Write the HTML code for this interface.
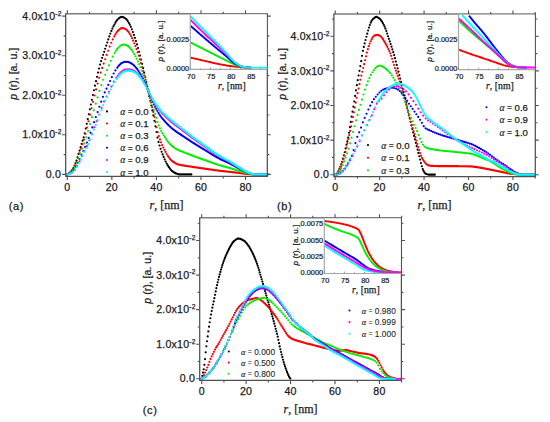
<!DOCTYPE html>
<html><head><meta charset="utf-8"><style>
html,body{margin:0;padding:0;background:#fff;}
svg{display:block;}
text{font-family:"Liberation Sans",sans-serif;fill:#1c1c1c;stroke:#1c1c1c;stroke-width:0.25px;}
.tl{font-size:10.6px;letter-spacing:0.2px;}
.sup{font-size:6.6px;}
.yt{font-size:10.6px;}
.xt{font-family:"Liberation Serif",serif;font-size:12px;}
.pl{font-size:11px;letter-spacing:0.7px;}
.lg{}
.al{font-family:"Liberation Serif",serif;font-style:italic;stroke-width:0.15px;}
.it{font-size:7.4px;stroke-width:0.22px;}
.iyt{font-size:7.9px;letter-spacing:0.18px;}
.ixt{font-family:"Liberation Serif",serif;font-size:9.8px;}
</style></head><body>
<svg width="550" height="422" viewBox="0 0 550 422">
<rect width="550" height="422" fill="#fff"/>
<path d="M67.3 174.4h0M68.32 173.86h0M69.35 173.14h0M70.37 172.26h0M71.4 171.16h0M72.42 169.8h0M73.45 168h0M74.47 165.82h0M75.5 163.4h0M76.52 160.58h0M77.55 157.32h0M78.57 153.92h0M79.6 150.57h0M80.62 147.13h0M81.65 143.78h0M82.67 140.67h0M83.7 137.33h0M84.72 133.28h0M85.75 128.62h0M86.77 123.85h0M87.8 119.1h0M88.82 114.25h0M89.85 109.36h0M90.87 104.51h0M91.9 99.74h0M92.92 94.99h0M93.95 90.27h0M94.97 85.65h0M96 81.19h0M97.02 76.86h0M98.05 72.59h0M99.07 68.48h0M100.1 64.6h0M101.12 61.06h0M102.15 57.87h0M103.17 54.86h0M104.2 51.86h0M105.22 48.75h0M106.25 45.59h0M107.27 42.48h0M108.3 39.44h0M109.32 36.41h0M110.34 33.53h0M111.37 30.96h0M112.39 28.61h0M113.42 26.47h0M114.44 24.55h0M115.47 22.67h0M116.49 20.96h0M117.52 19.61h0M118.54 18.69h0M119.57 17.87h0M120.59 17.23h0M121.62 16.91h0M122.64 16.99h0M123.67 17.39h0M124.69 18.01h0M125.72 18.74h0M126.74 19.69h0M127.77 21.11h0M128.79 22.82h0M129.82 24.68h0M130.84 26.84h0M131.87 29.31h0M132.89 32.02h0M133.92 34.89h0M134.94 37.86h0M135.97 41.02h0M136.99 44.41h0M138.02 47.99h0M139.04 51.74h0M140.07 55.6h0M141.09 59.57h0M142.12 63.78h0M143.14 68.18h0M144.17 72.69h0M145.19 77.25h0M146.22 81.92h0M147.24 86.7h0M148.27 91.47h0M149.29 96.13h0M150.32 100.76h0M151.34 105.49h0M152.37 110.39h0M153.39 115.45h0M154.41 120.76h0M155.44 126.37h0M156.46 132h0M157.49 137.54h0M158.51 141.88h0M159.54 145.51h0M160.56 148.78h0M161.59 151.73h0M162.61 154.43h0M163.64 156.95h0M164.66 159.28h0M165.69 161.49h0M166.71 163.56h0M167.74 165.39h0M168.76 166.95h0M169.79 168.4h0M170.81 169.69h0M171.84 170.78h0M172.86 171.62h0M173.89 172.33h0M174.91 172.93h0M175.94 173.41h0M176.96 173.77h0M177.99 174.1h0M179.01 174.33h0M180.04 174.4h0M181.06 174.4h0M182.09 174.4h0M183.11 174.4h0M184.14 174.4h0M185.16 174.4h0M186.19 174.4h0M187.21 174.4h0M188.24 174.4h0M189.26 174.4h0M190.29 174.4h0M191.31 174.4h0" stroke="#000000" stroke-width="2.2" stroke-linecap="round" fill="none"/>
<path d="M67.3 174.4h0M68.82 173.65h0M70.33 172.55h0M71.85 171.04h0M73.36 168.85h0M74.88 165.86h0M76.39 162.27h0M77.91 157.86h0M79.42 153.31h0M80.94 148.63h0M82.45 144.21h0M83.97 139.6h0M85.48 133.82h0M87 127.58h0M88.51 121.25h0M90.03 114.72h0M91.54 108.24h0M93.06 101.83h0M94.57 95.51h0M96.09 89.46h0M97.6 83.58h0M99.12 77.86h0M100.63 72.55h0M102.15 67.88h0M103.66 63.56h0M105.18 59.24h0M106.69 54.95h0M108.21 50.76h0M109.72 46.57h0M111.24 42.76h0M112.75 39.38h0M114.27 36.44h0M115.38 34.43h0M116.49 32.59h0M117.61 31.13h0M118.72 30.06h0M119.84 29.1h0M120.95 28.41h0M122.06 28.09h0M123.18 28.16h0M124.29 28.51h0M125.41 29.06h0M126.52 29.75h0M127.63 30.88h0M128.75 32.34h0M129.86 33.98h0M130.98 35.93h0M132.09 38.18h0M133.2 40.65h0M134.32 43.29h0M135.43 46.07h0M136.55 49.08h0M137.66 52.33h0M138.77 55.77h0M139.89 59.37h0M141 63.08h0M142.12 67.05h0M143.23 71.22h0M144.34 75.51h0M145.46 79.87h0M146.57 84.37h0M147.69 88.95h0M148.8 93.5h0M149.91 97.98h0M151.03 102.5h0M152.14 107.14h0M153.26 111.91h0M154.37 116.86h0M155.48 122.04h0M156.6 127.23h0M157.71 132.18h0M158.83 136.05h0M159.94 139.38h0M161.05 142.35h0M162.17 145.03h0M163.28 147.5h0M164.4 149.79h0M165.51 151.95h0M166.62 153.98h0M167.74 155.79h0M168.85 157.34h0M169.97 158.78h0M171.08 160.05h0M172.19 161.12h0M173.31 161.97h0M174.42 162.72h0M175.54 163.35h0M176.65 163.87h0M177.76 164.33h0M178.88 164.73h0M179.99 164.96h0M181.11 165.13h0M182.22 165.3h0M183.33 165.47h0M184.45 165.64h0M185.56 165.82h0M186.68 165.99h0M187.79 166.17h0M188.9 166.35h0M190.02 166.52h0M191.13 166.69h0M192.25 166.86h0M193.36 167.03h0M194.47 167.19h0M195.59 167.36h0M196.7 167.52h0M197.82 167.68h0M198.93 167.84h0M200.04 168h0M201.16 168.16h0M202.27 168.32h0M203.39 168.47h0M204.5 168.63h0M205.61 168.79h0M206.73 168.95h0M207.84 169.11h0M208.96 169.28h0M210.07 169.44h0M211.18 169.6h0M212.3 169.77h0M213.41 169.93h0M214.53 170.08h0M215.64 170.23h0M216.75 170.37h0M217.87 170.51h0M218.98 170.65h0M220.1 170.79h0M221.21 170.92h0M222.32 171.05h0M223.44 171.17h0M224.55 171.29h0M225.67 171.4h0M226.78 171.52h0M227.89 171.63h0M229.01 171.75h0M230.12 171.89h0M231.24 172.02h0M232.35 172.16h0M233.46 172.3h0M234.58 172.44h0M235.69 172.58h0M236.81 172.72h0M237.92 172.86h0M239.03 173h0M240.15 173.14h0M241.26 173.27h0M242.38 173.41h0M243.49 173.54h0M244.6 173.66h0M245.72 173.79h0M246.83 173.91h0M247.95 174.02h0M249.06 174.12h0M250.17 174.2h0M251.29 174.27h0M252.4 174.32h0M253.52 174.35h0M254.63 174.38h0M255.74 174.39h0M256.86 174.4h0M257.97 174.4h0M259.09 174.4h0M260.2 174.4h0M261.31 174.4h0M262.43 174.4h0M263.54 174.4h0M264.66 174.4h0M265.77 174.4h0M266.88 174.4h0" stroke="#ff0000" stroke-width="2.2" stroke-linecap="round" fill="none"/>
<path d="M67.3 174.4h0M69.19 173.61h0M71.09 172.36h0M72.98 170.4h0M74.88 167.3h0M76.77 163.32h0M78.66 158.49h0M80.56 153.48h0M82.45 148.5h0M84.34 143.35h0M86.24 137.23h0M88.13 130.85h0M90.03 124.02h0M91.92 117.13h0M93.81 110.28h0M95.71 103.69h0M97.6 97.31h0M99.49 90.93h0M101.39 85.05h0M103.28 79.76h0M105.18 74.77h0M107.07 70.11h0M108.96 65.44h0M110.86 60.84h0M112.75 56.69h0M114.65 53.1h0M115.87 51.02h0M117.1 49.2h0M118.32 47.76h0M119.55 46.5h0M120.77 45.51h0M122 44.9h0M123.22 44.64h0M124.45 44.69h0M125.67 44.94h0M126.9 45.39h0M128.12 46.2h0M129.35 47.29h0M130.58 48.6h0M131.8 50.21h0M133.03 52.02h0M134.25 54.05h0M135.48 56.25h0M136.7 58.67h0M137.93 61.34h0M139.15 64.22h0M140.38 67.25h0M141.6 70.5h0M142.83 74.02h0M144.05 77.68h0M145.28 81.44h0M146.51 85.34h0M147.73 89.35h0M148.96 93.39h0M150.18 97.42h0M151.41 101.44h0M152.63 105.52h0M153.86 109.64h0M155.08 113.82h0M156.31 117.95h0M157.53 122.04h0M158.76 125.4h0M159.98 128.3h0M161.21 130.85h0M162.44 133.13h0M163.66 135.25h0M164.89 137.22h0M166.11 139.11h0M167.34 140.86h0M168.56 142.39h0M169.79 143.8h0M171.01 145.08h0M172.24 146.18h0M173.46 147.12h0M174.69 147.98h0M175.91 148.75h0M177.14 149.44h0M178.37 150.1h0M179.59 150.66h0M180.82 151.12h0M182.04 151.59h0M183.27 152.05h0M184.49 152.52h0M185.72 153h0M186.94 153.49h0M188.17 153.97h0M189.39 154.46h0M190.62 154.93h0M191.85 155.4h0M193.07 155.86h0M194.3 156.32h0M195.52 156.77h0M196.75 157.21h0M197.97 157.65h0M199.2 158.09h0M200.42 158.53h0M201.65 158.97h0M202.87 159.4h0M204.1 159.84h0M205.32 160.27h0M206.55 160.71h0M207.78 161.15h0M209 161.61h0M210.23 162.06h0M211.45 162.51h0M212.68 162.95h0M213.9 163.38h0M215.13 163.8h0M216.35 164.2h0M217.58 164.6h0M218.8 164.98h0M220.03 165.35h0M221.25 165.71h0M222.48 166.07h0M223.71 166.41h0M224.93 166.73h0M226.16 167.03h0M227.38 167.34h0M228.61 167.67h0M229.83 168.03h0M231.06 168.4h0M232.28 168.79h0M233.51 169.18h0M234.73 169.56h0M235.96 169.94h0M237.18 170.33h0M238.41 170.71h0M239.64 171.09h0M240.86 171.46h0M242.09 171.83h0M243.31 172.19h0M244.54 172.54h0M245.76 172.88h0M246.99 173.21h0M248.21 173.51h0M249.44 173.77h0M250.66 173.98h0M251.89 174.13h0M253.12 174.26h0M254.34 174.34h0M255.57 174.38h0M256.79 174.4h0M258.02 174.4h0M259.24 174.4h0M260.47 174.4h0M261.69 174.4h0M262.92 174.4h0M264.14 174.4h0M265.37 174.4h0M266.59 174.4h0M267.82 174.4h0" stroke="#00ee00" stroke-width="2.2" stroke-linecap="round" fill="none"/>
<path d="M67.3 174.4h0M69.08 173.88h0M70.86 173.04h0M72.65 171.7h0M74.43 169.54h0M76.21 166.62h0M77.99 163.05h0M79.78 159.19h0M81.56 155.12h0M83.34 151.1h0M85.12 146.96h0M86.91 142.6h0M88.69 137.9h0M90.47 132.69h0M92.25 127.4h0M94.04 122.13h0M95.82 117.08h0M97.6 112.04h0M99.38 106.77h0M101.17 101.67h0M102.95 96.87h0M104.73 92.44h0M106.51 88.64h0M108.3 84.95h0M110.08 80.98h0M111.86 77.14h0M113.64 73.51h0M115.42 70.43h0M117.21 67.78h0M118.32 66.36h0M119.44 65.05h0M120.55 63.96h0M121.66 63.15h0M122.78 62.52h0M123.89 62.1h0M125.01 61.91h0M126.12 61.8h0M127.23 61.84h0M128.35 62.05h0M129.46 62.45h0M130.58 63h0M131.69 63.7h0M132.8 64.49h0M133.92 65.45h0M135.03 66.56h0M136.15 67.81h0M137.26 69.21h0M138.37 70.79h0M139.49 72.53h0M140.6 74.37h0M141.72 76.42h0M142.83 78.65h0M143.94 80.99h0M145.06 83.4h0M146.17 85.92h0M147.29 88.53h0M148.4 91.2h0M149.51 93.96h0M150.63 96.69h0M151.74 99.32h0M152.86 101.91h0M153.97 104.37h0M155.08 106.65h0M156.2 108.78h0M157.31 110.87h0M158.43 112.85h0M159.54 114.69h0M160.65 116.32h0M161.77 117.76h0M162.88 119.1h0M164 120.38h0M165.11 121.64h0M166.22 122.87h0M167.34 124.07h0M168.45 125.19h0M169.57 126.27h0M170.68 127.29h0M171.79 128.25h0M172.91 129.15h0M174.02 130h0M175.14 130.83h0M176.25 131.64h0M177.36 132.43h0M178.48 133.2h0M179.59 133.95h0M180.71 134.66h0M181.82 135.38h0M182.93 136.1h0M184.05 136.83h0M185.16 137.56h0M186.28 138.31h0M187.39 139.06h0M188.5 139.82h0M189.62 140.56h0M190.73 141.3h0M191.85 142.03h0M192.96 142.74h0M194.07 143.45h0M195.19 144.14h0M196.3 144.83h0M197.42 145.52h0M198.53 146.2h0M199.64 146.89h0M200.76 147.57h0M201.87 148.24h0M202.99 148.91h0M204.1 149.58h0M205.21 150.26h0M206.33 150.93h0M207.44 151.62h0M208.56 152.32h0M209.67 153.02h0M210.78 153.72h0M211.9 154.41h0M213.01 155.1h0M214.13 155.76h0M215.24 156.4h0M216.35 157.02h0M217.47 157.63h0M218.58 158.23h0M219.7 158.81h0M220.81 159.38h0M221.92 159.93h0M223.04 160.47h0M224.15 160.99h0M225.27 161.47h0M226.38 161.94h0M227.49 162.42h0M228.61 162.94h0M229.72 163.49h0M230.84 164.06h0M231.95 164.66h0M233.06 165.26h0M234.18 165.85h0M235.29 166.44h0M236.41 167.04h0M237.52 167.64h0M238.63 168.23h0M239.75 168.82h0M240.86 169.4h0M241.98 169.96h0M243.09 170.52h0M244.2 171.07h0M245.32 171.6h0M246.43 172.12h0M247.55 172.62h0M248.66 173.05h0M249.77 173.43h0M250.89 173.74h0M252 173.97h0M253.12 174.15h0M254.23 174.28h0M255.34 174.36h0M256.46 174.4h0M257.57 174.4h0M258.69 174.4h0M259.8 174.4h0M260.91 174.4h0M262.03 174.4h0M263.14 174.4h0M264.26 174.4h0M265.37 174.4h0M266.48 174.4h0M267.6 174.4h0" stroke="#0000ff" stroke-width="2.2" stroke-linecap="round" fill="none"/>
<path d="M67.3 174.4h0M69.75 173.74h0M72.2 172.45h0M74.65 169.89h0M77.1 166.01h0M79.55 161.3h0M82 156.17h0M84.46 151.1h0M86.91 146.08h0M89.36 140.35h0M91.81 133.88h0M94.26 127.36h0M96.71 121.14h0M99.16 114.51h0M101.61 107.83h0M104.06 101.56h0M106.51 96.54h0M108.96 91.75h0M111.41 86.6h0M113.87 81.64h0M116.32 77.66h0M117.65 75.8h0M118.99 74.06h0M120.33 72.57h0M121.66 71.48h0M123 70.58h0M124.34 69.96h0M125.67 69.61h0M127.01 69.34h0M128.35 69.26h0M129.68 69.41h0M131.02 69.75h0M132.36 70.21h0M133.69 70.82h0M135.03 71.69h0M136.37 72.71h0M137.7 73.95h0M139.04 75.43h0M140.38 77.08h0M141.72 78.99h0M143.05 81.15h0M144.39 83.41h0M145.73 85.82h0M147.06 88.38h0M148.4 91.05h0M149.74 93.9h0M151.07 96.67h0M152.41 99.3h0M153.75 101.76h0M155.08 103.87h0M156.42 105.73h0M157.76 107.59h0M159.09 109.53h0M160.43 111.3h0M161.77 112.82h0M163.1 114.23h0M164.44 115.58h0M165.78 116.92h0M167.11 118.22h0M168.45 119.47h0M169.79 120.68h0M171.12 121.82h0M172.46 122.91h0M173.8 123.96h0M175.14 124.99h0M176.47 126.01h0M177.81 127.02h0M179.15 128.02h0M180.48 129h0M181.82 129.98h0M183.16 130.96h0M184.49 131.96h0M185.83 132.97h0M187.17 134h0M188.5 135.03h0M189.84 136.05h0M191.18 137.05h0M192.51 138.04h0M193.85 139h0M195.19 139.95h0M196.52 140.9h0M197.86 141.83h0M199.2 142.77h0M200.53 143.7h0M201.87 144.62h0M203.21 145.54h0M204.54 146.45h0M205.88 147.37h0M207.22 148.31h0M208.56 149.26h0M209.89 150.22h0M211.23 151.17h0M212.57 152.11h0M213.9 153.03h0M215.24 153.91h0M216.58 154.76h0M217.91 155.58h0M219.25 156.39h0M220.59 157.17h0M221.92 157.93h0M223.26 158.66h0M224.6 159.35h0M225.93 160h0M227.27 160.65h0M228.61 161.35h0M229.94 162.1h0M231.28 162.9h0M232.62 163.72h0M233.95 164.53h0M235.29 165.34h0M236.63 166.16h0M237.96 166.97h0M239.3 167.78h0M240.64 168.57h0M241.98 169.35h0M243.31 170.11h0M244.65 170.85h0M245.99 171.57h0M247.32 172.26h0M248.66 172.86h0M250 173.38h0M251.33 173.76h0M252.67 174.04h0M254.01 174.24h0M255.34 174.35h0M256.68 174.4h0M258.02 174.4h0M259.35 174.4h0M260.69 174.4h0M262.03 174.4h0M263.36 174.4h0M264.7 174.4h0M266.04 174.4h0M267.37 174.4h0" stroke="#ff00ff" stroke-width="2.2" stroke-linecap="round" fill="none"/>
<path d="M67.3 174.4h0M69.19 173.97h0M71.09 173.2h0M72.98 171.93h0M74.88 169.71h0M76.77 166.82h0M78.66 163.35h0M80.56 159.6h0M82.45 155.66h0M84.34 151.83h0M86.24 148.14h0M88.13 144.18h0M90.03 139.53h0M91.92 134.63h0M93.81 129.68h0M95.71 124.96h0M97.6 120.18h0M99.49 115.01h0M101.39 109.91h0M103.28 104.98h0M105.18 100.66h0M107.07 97.14h0M108.96 93.43h0M110.86 89.48h0M112.75 85.53h0M114.65 82.03h0M116.54 79.08h0M117.54 77.69h0M118.54 76.35h0M119.55 75.11h0M120.55 74.07h0M121.55 73.25h0M122.55 72.52h0M123.56 71.92h0M124.56 71.51h0M125.56 71.21h0M126.56 70.96h0M127.57 70.78h0M128.57 70.71h0M129.57 70.78h0M130.58 70.96h0M131.58 71.22h0M132.58 71.51h0M133.58 71.9h0M134.59 72.44h0M135.59 73.1h0M136.59 73.82h0M137.59 74.68h0M138.6 75.69h0M139.6 76.79h0M140.6 77.99h0M141.6 79.36h0M142.61 80.86h0M143.61 82.45h0M144.61 84.08h0M145.61 85.81h0M146.62 87.63h0M147.62 89.5h0M148.62 91.47h0M149.62 93.54h0M150.63 95.58h0M151.63 97.49h0M152.63 99.36h0M153.64 101.1h0M154.64 102.63h0M155.64 103.95h0M156.64 105.2h0M157.65 106.48h0M158.65 107.85h0M159.65 109.21h0M160.65 110.4h0M161.66 111.49h0M162.66 112.51h0M163.66 113.49h0M164.66 114.46h0M165.67 115.43h0M166.67 116.38h0M167.67 117.31h0M168.67 118.22h0M169.68 119.1h0M170.68 119.96h0M171.68 120.78h0M172.68 121.59h0M173.69 122.37h0M174.69 123.15h0M175.69 123.93h0M176.69 124.71h0M177.7 125.48h0M178.7 126.25h0M179.7 127.01h0M180.71 127.76h0M181.71 128.52h0M182.71 129.28h0M183.71 130.04h0M184.72 130.82h0M185.72 131.6h0M186.72 132.39h0M187.72 133.19h0M188.73 133.98h0M189.73 134.77h0M190.73 135.56h0M191.73 136.32h0M192.74 137.08h0M193.74 137.82h0M194.74 138.56h0M195.74 139.29h0M196.75 140.02h0M197.75 140.74h0M198.75 141.47h0M199.75 142.19h0M200.76 142.91h0M201.76 143.62h0M202.76 144.33h0M203.77 145.04h0M204.77 145.75h0M205.77 146.46h0M206.77 147.18h0M207.78 147.91h0M208.78 148.65h0M209.78 149.39h0M210.78 150.13h0M211.79 150.86h0M212.79 151.58h0M213.79 152.29h0M214.79 152.98h0M215.8 153.64h0M216.8 154.29h0M217.8 154.93h0M218.8 155.56h0M219.81 156.17h0M220.81 156.77h0M221.81 157.35h0M222.81 157.92h0M223.82 158.48h0M224.82 159h0M225.82 159.5h0M226.82 160h0M227.83 160.52h0M228.83 161.07h0M229.83 161.66h0M230.84 162.27h0M231.84 162.89h0M232.84 163.53h0M233.84 164.16h0M234.85 164.78h0M235.85 165.41h0M236.85 166.04h0M237.85 166.67h0M238.86 167.3h0M239.86 167.92h0M240.86 168.53h0M241.86 169.13h0M242.87 169.72h0M243.87 170.3h0M244.87 170.87h0M245.87 171.42h0M246.88 171.96h0M247.88 172.47h0M248.88 172.91h0M249.88 173.31h0M250.89 173.63h0M251.89 173.87h0M252.89 174.07h0M253.9 174.23h0M254.9 174.32h0M255.9 174.38h0M256.9 174.4h0M257.91 174.4h0M258.91 174.4h0M259.91 174.4h0M260.91 174.4h0M261.92 174.4h0M262.92 174.4h0M263.92 174.4h0M264.92 174.4h0M265.93 174.4h0M266.93 174.4h0" stroke="#00ffff" stroke-width="2.2" stroke-linecap="round" fill="none"/>
<path d="M335.2 174.7h0M336.07 174.5h0M336.93 173.88h0M337.8 172.43h0M338.67 170.77h0M339.53 168.92h0M340.4 166.82h0M341.27 164.42h0M342.13 161.74h0M343 158.72h0M343.87 155.24h0M344.73 152.27h0M345.6 148.51h0M346.47 144.74h0M347.33 141.47h0M348.2 137.64h0M349.07 132.76h0M349.93 127.22h0M350.8 121.93h0M351.67 116.7h0M352.53 111.65h0M353.4 106.67h0M354.26 101.49h0M355.13 95.92h0M356 90.43h0M356.86 85.2h0M357.73 80.22h0M358.6 75.5h0M359.46 70.84h0M360.33 66.08h0M361.2 61.21h0M362.06 55.83h0M362.93 50.85h0M363.8 46.92h0M364.66 43.42h0M365.53 40.01h0M366.4 36.77h0M367.26 33.64h0M368.13 30.49h0M369 27.53h0M369.86 25.02h0M370.73 22.72h0M371.6 20.81h0M372.46 19.57h0M373.33 18.69h0M374.2 18.03h0M375.06 17.46h0M375.93 17.01h0M376.8 16.96h0M377.66 17.29h0M378.53 17.84h0M379.4 18.46h0M380.26 19.3h0M381.13 20.39h0M382 21.62h0M382.86 23.06h0M383.73 24.74h0M384.6 26.61h0M385.46 28.65h0M386.33 31.01h0M387.19 33.61h0M388.06 36.26h0M388.93 38.83h0M389.79 41.4h0M390.66 44.01h0M391.53 46.68h0M392.39 49.39h0M393.26 52.15h0M394.13 55.06h0M394.99 58.21h0M395.86 61.56h0M396.73 64.92h0M397.59 68.29h0M398.46 71.68h0M399.33 75.09h0M400.19 78.53h0M401.06 81.96h0M401.93 85.36h0M402.79 88.73h0M403.66 92.03h0M404.53 95.28h0M405.39 98.85h0M406.26 102.67h0M407.13 106.54h0M407.99 110.48h0M408.86 114.41h0M409.73 118.18h0M410.59 121.82h0M411.46 125.41h0M412.33 128.94h0M413.19 132.43h0M414.06 135.91h0M414.93 139.36h0M415.79 142.79h0M416.66 146.18h0M417.53 149.55h0M418.39 152.9h0M419.26 156.23h0M420.12 159.6h0M420.99 163.1h0M421.86 166.24h0M422.72 169.08h0M423.59 170.96h0M424.46 172.41h0M425.32 173.45h0M426.19 173.94h0M427.06 174.25h0M427.92 174.49h0M428.79 174.65h0M429.66 174.7h0M430.52 174.7h0M431.39 174.7h0M432.26 174.7h0M433.12 174.7h0M433.99 174.7h0M434.86 174.7h0" stroke="#000000" stroke-width="2.2" stroke-linecap="round" fill="none"/>
<path d="M335.2 174.7h0M336.13 174.36h0M337.07 173.64h0M338 172.61h0M338.93 170.96h0M339.87 169.04h0M340.8 166.82h0M341.73 164.33h0M342.67 161.79h0M343.6 159.02h0M344.53 155.75h0M345.47 151.82h0M346.4 147.66h0M347.33 143.33h0M348.27 139.11h0M349.2 135.08h0M350.13 130.9h0M351.07 126.41h0M352 121.76h0M352.93 117.09h0M353.86 112.37h0M354.8 107.58h0M355.73 102.63h0M356.66 97.77h0M357.6 93.13h0M358.53 88.62h0M359.46 84.15h0M360.4 79.74h0M361.33 75.6h0M362.26 71.76h0M363.2 68.01h0M364.13 64.14h0M365.06 60.26h0M366 56.37h0M366.93 52.53h0M367.86 49.16h0M368.8 46.16h0M369.73 43.54h0M370.66 41.23h0M371.6 39.32h0M372.53 37.57h0M373.46 36.27h0M374.4 35.68h0M375.33 35.27h0M376.26 35h0M377.2 34.92h0M378.13 35.08h0M379.06 35.46h0M380 35.99h0M380.93 36.62h0M381.86 37.56h0M382.8 38.96h0M383.73 40.55h0M384.66 42.07h0M385.59 43.64h0M386.53 45.32h0M387.46 47.11h0M388.39 49.04h0M389.33 51.12h0M390.26 53.37h0M391.19 55.87h0M392.13 58.76h0M393.06 61.87h0M393.99 65.02h0M394.93 68h0M395.86 70.72h0M396.79 73.34h0M397.73 76h0M398.66 78.7h0M399.59 81.48h0M400.53 84.49h0M401.46 87.67h0M402.39 90.98h0M403.33 94.33h0M404.26 97.77h0M405.19 101.29h0M406.13 104.83h0M407.06 108.42h0M407.99 112.09h0M408.93 115.62h0M409.86 118.83h0M410.79 121.83h0M411.73 124.89h0M412.66 127.98h0M413.59 131.04h0M414.53 134.05h0M415.46 137.18h0M416.39 140.57h0M417.33 143.95h0M418.26 147.12h0M419.19 150.16h0M420.12 152.98h0M421.06 155.63h0M421.99 157.82h0M422.92 159.55h0M423.86 161.02h0M424.79 162.31h0M425.72 163.43h0M426.66 164.26h0M427.59 164.94h0M428.52 165.36h0M429.46 165.57h0M430.39 165.73h0M431.32 165.84h0M432.26 165.9h0M433.19 165.95h0M434.12 165.99h0M435.06 166.03h0M435.99 166.06h0M436.92 166.09h0M437.86 166.12h0M438.79 166.14h0M439.72 166.16h0M440.66 166.17h0M441.59 166.18h0M442.52 166.19h0M443.46 166.19h0M444.39 166.19h0M445.32 166.2h0M446.26 166.2h0M447.19 166.2h0M448.12 166.2h0M449.06 166.2h0M449.99 166.21h0M450.92 166.21h0M451.86 166.21h0M452.79 166.21h0M453.72 166.21h0M454.65 166.21h0M455.59 166.22h0M456.52 166.22h0M457.45 166.22h0M458.39 166.23h0M459.32 166.23h0M460.25 166.24h0M461.19 166.25h0M462.12 166.26h0M463.05 166.27h0M463.99 166.28h0M464.92 166.3h0M465.85 166.32h0M466.79 166.33h0M467.72 166.35h0M468.65 166.38h0M469.59 166.4h0M470.52 166.44h0M471.45 166.51h0M472.39 166.6h0M473.32 166.71h0M474.25 166.83h0M475.19 166.95h0M476.12 167.09h0M477.05 167.22h0M477.99 167.35h0M478.92 167.49h0M479.85 167.64h0M480.79 167.8h0M481.72 167.96h0M482.65 168.14h0M483.59 168.32h0M484.52 168.51h0M485.45 168.7h0M486.38 168.89h0M487.32 169.08h0M488.25 169.27h0M489.18 169.45h0M490.12 169.63h0M491.05 169.82h0M491.98 170h0M492.92 170.19h0M493.85 170.38h0M494.78 170.57h0M495.72 170.75h0M496.65 170.94h0M497.58 171.13h0M498.52 171.32h0M499.45 171.51h0M500.38 171.69h0M501.32 171.89h0M502.25 172.09h0M503.18 172.3h0M504.12 172.51h0M505.05 172.71h0M505.98 172.91h0M506.92 173.1h0M507.85 173.28h0M508.78 173.45h0M509.72 173.59h0M510.65 173.72h0M511.58 173.83h0M512.52 173.93h0M513.45 174.02h0M514.38 174.11h0M515.32 174.19h0M516.25 174.27h0M517.18 174.33h0M518.12 174.4h0M519.05 174.46h0M519.98 174.52h0M520.91 174.58h0M521.85 174.64h0M522.78 174.68h0M523.71 174.7h0M524.65 174.7h0M525.58 174.7h0M526.51 174.7h0M527.45 174.7h0M528.38 174.7h0M529.31 174.7h0M530.25 174.7h0M531.18 174.7h0M532.11 174.7h0M533.05 174.7h0M533.98 174.7h0M534.91 174.7h0" stroke="#ff0000" stroke-width="2.2" stroke-linecap="round" fill="none"/>
<path d="M335.2 174.7h0M336.69 174.14h0M338.18 172.95h0M339.67 170.86h0M341.15 168.2h0M342.64 165.04h0M344.13 161.44h0M345.62 157.57h0M347.11 153.42h0M348.6 148.87h0M350.09 143.28h0M351.58 137.67h0M353.06 132.11h0M354.55 126.26h0M356.04 120.33h0M357.53 114.96h0M359.02 109.9h0M360.51 104.75h0M362 99.59h0M363.49 94.5h0M364.97 89.56h0M366.46 85.2h0M367.95 81.3h0M369.44 77.9h0M370.93 74.88h0M372.42 72.27h0M373.91 70.03h0M375.4 68.21h0M376.88 66.81h0M378.37 65.86h0M379.86 65.65h0M381.35 66.04h0M382.84 66.65h0M384.33 67.7h0M385.82 68.87h0M387.31 70.05h0M388.79 71.4h0M390.28 73.08h0M391.77 75.3h0M393.26 77.7h0M394.75 80.21h0M396.24 82.84h0M397.73 85.55h0M399.22 88.44h0M400.7 91.52h0M402.19 94.71h0M403.68 98.03h0M405.17 101.9h0M406.66 106.34h0M408.15 111.37h0M409.64 114.76h0M411.13 117.76h0M412.61 121.27h0M414.1 124.79h0M415.59 128.02h0M417.08 131.17h0M418.57 134.95h0M420.06 138.65h0M421.55 141.98h0M423.04 144.76h0M424.52 146.5h0M426.01 147.5h0M427.5 148.13h0M428.99 148.55h0M430.48 148.89h0M431.97 149.19h0M433.46 149.47h0M434.95 149.72h0M436.43 149.94h0M437.92 150.13h0M439.41 150.31h0M440.9 150.48h0M442.39 150.64h0M443.88 150.81h0M445.37 150.96h0M446.86 151.11h0M448.34 151.26h0M449.83 151.41h0M451.32 151.56h0M452.81 151.71h0M454.3 151.86h0M455.79 152.01h0M457.28 152.15h0M458.77 152.28h0M460.25 152.43h0M461.74 152.57h0M463.23 152.73h0M464.72 152.9h0M466.21 153.08h0M467.7 153.27h0M469.19 153.47h0M470.68 153.71h0M472.16 153.99h0M473.65 154.36h0M475.14 154.9h0M476.63 155.52h0M478.12 156.13h0M479.61 156.77h0M481.1 157.43h0M482.59 158.09h0M484.07 158.71h0M485.56 159.3h0M487.05 159.89h0M488.54 160.51h0M490.03 161.22h0M491.52 162h0M493.01 162.85h0M494.5 163.75h0M495.98 164.75h0M497.47 165.83h0M498.96 166.87h0M500.45 167.79h0M501.94 168.64h0M503.43 169.43h0M504.92 170.19h0M506.41 170.94h0M507.89 171.68h0M509.38 172.37h0M510.87 172.95h0M512.36 173.46h0M513.85 173.91h0M515.34 174.2h0M516.83 174.41h0M518.32 174.56h0M519.8 174.64h0M521.29 174.67h0M522.78 174.69h0M524.27 174.7h0M525.76 174.7h0M527.25 174.7h0M528.74 174.7h0M530.22 174.7h0M531.71 174.7h0M533.2 174.7h0M534.69 174.7h0" stroke="#00ee00" stroke-width="2.2" stroke-linecap="round" fill="none"/>
<path d="M335.2 174.7h0M337.04 174.45h0M338.89 173.87h0M340.73 172.59h0M342.58 170.91h0M344.42 168.8h0M346.27 166.19h0M348.11 163.01h0M349.95 159.7h0M351.8 155.83h0M353.64 150.09h0M355.49 143.05h0M357.33 136.8h0M359.18 132.31h0M361.02 127.62h0M362.86 122.33h0M364.71 117.81h0M366.55 113.74h0M368.4 109.52h0M370.24 105.71h0M372.09 102.18h0M373.93 99.22h0M375.77 96.75h0M377.62 94.52h0M379.46 92.52h0M381.31 90.79h0M383.15 89.62h0M385 88.91h0M386.84 88.35h0M388.68 87.78h0M390.53 87.51h0M392.37 87.66h0M394.22 88.02h0M396.06 88.58h0M397.9 89.62h0M399.75 90.98h0M401.59 92.95h0M403.44 95.24h0M405.28 97.86h0M407.13 100.86h0M408.97 103.75h0M410.81 106.24h0M412.66 108.82h0M414.5 111.54h0M416.35 114.23h0M418.19 116.96h0M420.04 119.87h0M421.88 122.86h0M423.72 126.19h0M425.57 128.34h0M427.41 129.36h0M429.26 130.14h0M431.1 130.99h0M432.95 131.8h0M434.79 132.57h0M436.63 133.32h0M438.48 134.04h0M440.32 134.72h0M442.17 135.36h0M444.01 135.93h0M445.86 136.47h0M447.7 137.01h0M449.54 137.54h0M451.39 138.07h0M453.23 138.6h0M455.08 139.13h0M456.92 139.66h0M458.77 140.19h0M460.61 140.74h0M462.45 141.32h0M464.3 141.9h0M466.14 142.47h0M467.99 143.01h0M469.83 143.57h0M471.68 144.22h0M473.52 145.02h0M475.36 145.94h0M477.21 146.91h0M479.05 147.91h0M480.9 148.97h0M482.74 150.07h0M484.59 151.2h0M486.43 152.37h0M488.27 153.59h0M490.12 154.87h0M491.96 156.26h0M493.81 157.68h0M495.65 159.04h0M497.49 160.32h0M499.34 161.56h0M501.18 162.77h0M503.03 163.94h0M504.87 165.15h0M506.72 166.46h0M508.56 167.86h0M510.4 169.18h0M512.25 170.39h0M514.09 171.54h0M515.94 172.53h0M517.78 173.34h0M519.63 174.02h0M521.47 174.42h0M523.31 174.67h0M525.16 174.7h0M527 174.7h0M528.85 174.7h0M530.69 174.7h0M532.54 174.7h0M534.38 174.7h0" stroke="#0000ff" stroke-width="2.2" stroke-linecap="round" fill="none"/>
<path d="M335.2 174.7h0M337.64 174.5h0M340.09 173.6h0M342.53 171.47h0M344.98 168.65h0M347.42 164.82h0M349.87 160.43h0M352.31 155.99h0M354.75 151.08h0M357.2 146.55h0M359.64 141.16h0M362.09 135.52h0M364.53 130.36h0M366.97 125h0M369.42 120.09h0M371.86 115.46h0M374.31 109.16h0M376.75 103.64h0M379.2 100.87h0M381.64 98.67h0M384.08 95.28h0M386.53 92.2h0M388.97 89.69h0M391.42 87.86h0M393.86 86.71h0M396.31 86.12h0M398.75 86.66h0M401.19 87.71h0M403.64 89.3h0M406.08 91.45h0M408.53 94.38h0M410.97 97.8h0M413.41 101.18h0M415.86 104.77h0M418.3 108.63h0M420.75 112.36h0M423.19 115.68h0M425.64 118.5h0M428.08 120.41h0M430.52 121.85h0M432.97 123.53h0M435.41 125.26h0M437.86 126.93h0M440.3 128.61h0M442.74 130.39h0M445.19 132.32h0M447.63 134.22h0M450.08 135.98h0M452.52 137.65h0M454.97 139.19h0M457.41 140.6h0M459.85 141.95h0M462.3 143.25h0M464.74 144.5h0M467.19 145.71h0M469.63 146.88h0M472.08 148.02h0M474.52 149.15h0M476.96 150.28h0M479.41 151.39h0M481.85 152.5h0M484.3 153.69h0M486.74 154.93h0M489.18 156.3h0M491.63 157.97h0M494.07 159.77h0M496.52 161.3h0M498.96 162.61h0M501.41 164.05h0M503.85 165.71h0M506.29 167.43h0M508.74 169.18h0M511.18 170.84h0M513.63 172.39h0M516.07 173.46h0M518.51 174.17h0M520.96 174.51h0M523.4 174.69h0M525.85 174.7h0M528.29 174.7h0M530.74 174.7h0M533.18 174.7h0" stroke="#ff00ff" stroke-width="2.2" stroke-linecap="round" fill="none"/>
<path d="M335.2 174.7h0M337.42 174.53h0M339.64 173.89h0M341.87 172.07h0M344.09 169.8h0M346.31 166.49h0M348.53 162.46h0M350.75 158.57h0M352.98 154.27h0M355.2 149.67h0M357.42 145.46h0M359.64 140.15h0M361.86 134.97h0M364.09 130.29h0M366.31 125.26h0M368.53 120.76h0M370.75 116.57h0M372.97 112.07h0M375.2 107.27h0M377.42 102.21h0M378.31 100.67h0M379.2 99.32h0M380.08 98.03h0M380.97 96.71h0M381.86 95.39h0M382.75 94.13h0M383.64 92.96h0M384.53 91.85h0M385.42 90.79h0M386.31 89.82h0M387.19 88.98h0M388.08 88.21h0M388.97 87.51h0M389.86 86.89h0M390.75 86.34h0M391.64 85.83h0M392.53 85.35h0M393.42 84.93h0M394.31 84.58h0M395.19 84.32h0M396.08 84.08h0M396.97 83.87h0M397.86 83.74h0M398.75 83.71h0M399.64 83.81h0M400.53 84.01h0M401.42 84.26h0M402.3 84.54h0M403.19 84.92h0M404.08 85.39h0M404.97 85.92h0M405.86 86.48h0M406.75 87.04h0M407.64 87.62h0M408.53 88.22h0M409.41 88.88h0M410.3 89.6h0M411.19 90.39h0M412.08 91.27h0M412.97 92.31h0M413.86 93.52h0M414.75 94.84h0M415.64 96.27h0M416.53 97.78h0M417.41 99.53h0M418.3 101.42h0M419.19 103.32h0M420.08 105.14h0M420.97 106.98h0M421.86 108.77h0M422.75 110.42h0M423.64 112h0M424.52 113.54h0M425.41 114.99h0M426.3 116.28h0M427.19 117.36h0M428.08 118.23h0M428.97 118.97h0M429.86 119.69h0M430.75 120.4h0M431.63 121.09h0M432.52 121.76h0M433.41 122.42h0M434.3 123.06h0M435.19 123.7h0M436.08 124.34h0M436.97 124.97h0M437.86 125.57h0M438.75 126.18h0M439.63 126.78h0M440.52 127.39h0M441.41 128.01h0M442.3 128.66h0M443.19 129.34h0M444.08 130.03h0M444.97 130.73h0M445.86 131.43h0M446.74 132.14h0M447.63 132.83h0M448.52 133.53h0M449.41 134.23h0M450.3 134.93h0M451.19 135.63h0M452.08 136.32h0M452.97 137h0M453.85 137.67h0M454.74 138.33h0M455.63 138.98h0M456.52 139.63h0M457.41 140.27h0M458.3 140.9h0M459.19 141.52h0M460.08 142.13h0M460.97 142.73h0M461.85 143.32h0M462.74 143.9h0M463.63 144.48h0M464.52 145.07h0M465.41 145.66h0M466.3 146.26h0M467.19 146.88h0M468.08 147.5h0M468.96 148.12h0M469.85 148.74h0M470.74 149.34h0M471.63 149.93h0M472.52 150.52h0M473.41 151.09h0M474.3 151.66h0M475.19 152.22h0M476.07 152.78h0M476.96 153.32h0M477.85 153.86h0M478.74 154.39h0M479.63 154.91h0M480.52 155.43h0M481.41 155.94h0M482.3 156.44h0M483.19 156.93h0M484.07 157.42h0M484.96 157.92h0M485.85 158.4h0M486.74 158.89h0M487.63 159.35h0M488.52 159.8h0M489.41 160.22h0M490.3 160.6h0M491.18 160.95h0M492.07 161.28h0M492.96 161.61h0M493.85 161.97h0M494.74 162.37h0M495.63 162.83h0M496.52 163.39h0M497.41 164h0M498.29 164.64h0M499.18 165.27h0M500.07 165.84h0M500.96 166.39h0M501.85 166.92h0M502.74 167.45h0M503.63 167.96h0M504.52 168.46h0M505.41 168.94h0M506.29 169.4h0M507.18 169.85h0M508.07 170.3h0M508.96 170.73h0M509.85 171.16h0M510.74 171.59h0M511.63 172.04h0M512.52 172.51h0M513.4 172.96h0M514.29 173.36h0M515.18 173.66h0M516.07 173.9h0M516.96 174.11h0M517.85 174.3h0M518.74 174.44h0M519.63 174.53h0M520.51 174.58h0M521.4 174.63h0M522.29 174.67h0M523.18 174.69h0M524.07 174.7h0M524.96 174.7h0M525.85 174.7h0M526.74 174.7h0M527.63 174.7h0M528.51 174.7h0M529.4 174.7h0M530.29 174.7h0M531.18 174.7h0M532.07 174.7h0M532.96 174.7h0M533.85 174.7h0M534.74 174.7h0" stroke="#00ffff" stroke-width="2.2" stroke-linecap="round" fill="none"/>
<path d="M201.7 378.8h0M202.37 375.83h0M203.03 372.61h0M203.7 369.23h0M204.37 364.86h0M205.03 359.09h0M205.7 352.28h0M206.37 346.32h0M207.03 341.23h0M207.7 336.4h0M208.37 331.46h0M209.03 326.64h0M209.7 322.23h0M210.37 318.26h0M211.03 314.56h0M211.7 311.03h0M212.37 307.69h0M213.03 304.52h0M213.7 301.39h0M214.37 298.16h0M215.03 294.79h0M215.7 291.42h0M216.37 288.21h0M217.03 285.22h0M217.7 282.36h0M218.36 279.61h0M219.03 276.97h0M219.7 274.42h0M220.36 271.96h0M221.03 269.61h0M221.7 267.36h0M222.36 265.18h0M223.03 263.09h0M223.7 261.13h0M224.36 259.33h0M225.03 257.64h0M225.7 256.06h0M226.36 254.54h0M227.03 253.08h0M227.7 251.65h0M228.36 250.25h0M229.03 248.9h0M229.7 247.61h0M230.36 246.41h0M231.03 245.28h0M231.7 244.16h0M232.36 243.1h0M233.03 242.16h0M233.7 241.39h0M234.36 240.81h0M235.03 240.26h0M235.7 239.73h0M236.36 239.28h0M237.03 238.92h0M237.7 238.68h0M238.36 238.6h0M239.03 238.64h0M239.7 238.76h0M240.36 238.94h0M241.03 239.19h0M241.7 239.47h0M242.36 239.79h0M243.03 240.14h0M243.7 240.5h0M244.36 240.94h0M245.03 241.53h0M245.7 242.23h0M246.36 243.01h0M247.03 243.86h0M247.7 244.75h0M248.36 245.64h0M249.03 246.62h0M249.7 247.69h0M250.36 248.83h0M251.03 250.04h0M251.69 251.3h0M252.36 252.6h0M253.03 253.96h0M253.69 255.41h0M254.36 256.94h0M255.03 258.54h0M255.69 260.21h0M256.36 261.96h0M257.03 263.81h0M257.69 265.77h0M258.36 267.81h0M259.03 270.03h0M259.69 272.38h0M260.36 274.73h0M261.03 277.01h0M261.69 279.27h0M262.36 281.56h0M263.03 283.91h0M263.69 286.31h0M264.36 288.71h0M265.03 291.06h0M265.69 293.35h0M266.36 295.62h0M267.03 297.89h0M267.69 300.18h0M268.36 302.46h0M269.03 304.74h0M269.69 307.02h0M270.36 309.28h0M271.03 311.56h0M271.69 313.89h0M272.36 316.29h0M273.03 318.72h0M273.69 321.2h0M274.36 323.72h0M275.03 326.27h0M275.69 328.82h0M276.36 331.3h0M277.03 333.87h0M277.69 336.69h0M278.36 339.85h0M279.03 343.15h0M279.69 346.38h0M280.36 349.32h0M281.03 352.01h0M281.69 354.6h0M282.36 357.19h0M283.03 359.74h0M283.69 362.15h0M284.36 364.32h0M285.02 366.33h0M285.69 368.23h0M286.36 370.08h0M287.02 371.88h0M287.69 373.59h0M288.36 375.16h0M289.02 376.62h0M289.69 377.75h0M290.36 378.59h0" stroke="#000000" stroke-width="2.2" stroke-linecap="round" fill="none"/>
<path d="M201.7 378.8h0M202.81 377.83h0M203.92 375.1h0M205.03 372.53h0M206.14 370h0M207.25 367.5h0M208.37 364.78h0M209.48 361.85h0M210.59 358.88h0M211.7 356.37h0M212.81 354.05h0M213.92 351.84h0M215.03 349.57h0M216.14 347.45h0M217.25 345.73h0M218.36 344.08h0M219.48 342.15h0M220.59 340.01h0M221.7 337.88h0M222.81 335.9h0M223.92 334.01h0M225.03 332.12h0M226.14 330.13h0M227.25 328.04h0M228.36 325.89h0M229.47 323.74h0M230.59 321.57h0M231.7 319.4h0M232.81 317.26h0M233.92 315.07h0M235.03 312.86h0M236.14 310.81h0M237.25 309.09h0M238.36 307.65h0M239.47 306.36h0M240.58 305.23h0M241.7 304.21h0M242.81 303.24h0M243.92 302.33h0M245.03 301.52h0M246.14 300.84h0M247.25 300.35h0M248.36 299.95h0M249.47 299.62h0M250.58 299.33h0M251.69 299.07h0M252.81 298.81h0M253.92 298.52h0M255.03 298.25h0M256.14 298.09h0M257.25 298.13h0M258.36 298.56h0M259.47 299.24h0M260.58 299.97h0M261.69 300.77h0M262.81 301.73h0M263.92 302.74h0M265.03 303.75h0M266.14 304.82h0M267.25 305.97h0M268.36 307.2h0M269.47 308.5h0M270.58 309.85h0M271.69 311.23h0M272.8 312.64h0M273.91 314.08h0M275.03 315.57h0M276.14 317.13h0M277.25 318.8h0M278.36 320.62h0M279.47 322.51h0M280.58 324.38h0M281.69 326.16h0M282.8 327.91h0M283.91 329.62h0M285.02 331.29h0M286.14 333.04h0M287.25 334.77h0M288.36 336.19h0M289.47 337.17h0M290.58 337.97h0M291.69 338.63h0M292.8 339.19h0M293.91 339.65h0M295.02 340.05h0M296.13 340.4h0M297.25 340.72h0M298.36 341.03h0M299.47 341.35h0M300.58 341.68h0M301.69 342.02h0M302.8 342.34h0M303.91 342.67h0M305.02 342.98h0M306.13 343.29h0M307.25 343.59h0M308.36 343.88h0M309.47 344.16h0M310.58 344.43h0M311.69 344.69h0M312.8 344.96h0M313.91 345.23h0M315.02 345.51h0M316.13 345.8h0M317.24 346.11h0M318.36 346.42h0M319.47 346.72h0M320.58 347.02h0M321.69 347.29h0M322.8 347.57h0M323.91 347.85h0M325.02 348.11h0M326.13 348.38h0M327.24 348.64h0M328.35 348.88h0M329.46 349.12h0M330.58 349.35h0M331.69 349.56h0M332.8 349.78h0M333.91 350.01h0M335.02 350.25h0M336.13 350.46h0M337.24 350.63h0M338.35 350.75h0M339.46 350.79h0M340.57 350.72h0M341.69 350.55h0M342.8 350.35h0M343.91 350.17h0M345.02 350.1h0M346.13 350.17h0M347.24 350.35h0M348.35 350.57h0M349.46 350.79h0M350.57 351.02h0M351.68 351.27h0M352.8 351.55h0M353.91 351.84h0M355.02 352.13h0M356.13 352.4h0M357.24 352.65h0M358.35 352.87h0M359.46 353.05h0M360.57 353.2h0M361.68 353.33h0M362.79 353.45h0M363.91 353.58h0M365.02 353.71h0M366.13 353.86h0M367.24 354.03h0M368.35 354.24h0M369.46 354.5h0M370.57 354.81h0M371.68 355.19h0M372.79 355.65h0M373.9 356.18h0M375.02 356.81h0M376.13 357.79h0M377.24 359.09h0M378.35 360.89h0M379.46 363.07h0M380.57 365.23h0M381.68 367.47h0M382.79 369.5h0M383.9 371.24h0M385.01 372.83h0M386.13 374.2h0M387.24 375.23h0M388.35 376.03h0M389.46 376.69h0M390.57 377.23h0M391.68 377.62h0M392.79 377.9h0M393.9 378.17h0M395.01 378.45h0" stroke="#ff0000" stroke-width="2.2" stroke-linecap="round" fill="none"/>
<path d="M201.7 378.8h0M203.37 377.99h0M205.03 376.9h0M206.7 375.55h0M208.37 373.84h0M210.03 372.04h0M211.7 370.1h0M213.37 367.95h0M215.03 365.55h0M216.7 362.8h0M218.36 359.87h0M220.03 357.12h0M221.7 354.18h0M223.36 350.96h0M225.03 347.55h0M226.7 344.02h0M228.36 340.37h0M230.03 336.59h0M231.7 332.73h0M233.36 328.75h0M235.03 325h0M236.7 322.01h0M238.36 319.12h0M240.03 315.75h0M241.7 312.61h0M243.36 309.85h0M245.03 307.45h0M246.7 305.63h0M248.36 304.11h0M250.03 302.84h0M251.69 301.82h0M253.36 300.97h0M255.03 300.26h0M256.69 299.62h0M258.36 299.04h0M260.03 298.58h0M261.69 298.21h0M263.36 297.94h0M265.03 298h0M266.69 298.69h0M268.36 299.62h0M270.03 300.75h0M271.69 302.15h0M273.36 303.65h0M275.03 305.33h0M276.69 307.09h0M278.36 308.85h0M280.03 310.59h0M281.69 312.38h0M283.36 314.22h0M285.02 316.15h0M286.69 318.15h0M288.36 320.3h0M290.02 322.51h0M291.69 324.25h0M293.36 325.67h0M295.02 326.93h0M296.69 328.07h0M298.36 329.1h0M300.02 330.04h0M301.69 330.95h0M303.36 331.86h0M305.02 332.76h0M306.69 333.64h0M308.36 334.52h0M310.02 335.42h0M311.69 336.31h0M313.36 337.21h0M315.02 338.13h0M316.69 339.11h0M318.36 340.15h0M320.02 341.14h0M321.69 341.98h0M323.35 342.73h0M325.02 343.41h0M326.69 344.06h0M328.35 344.71h0M330.02 345.38h0M331.69 346.09h0M333.35 346.82h0M335.02 347.57h0M336.69 348.31h0M338.35 349.02h0M340.02 349.69h0M341.69 350.31h0M343.35 350.9h0M345.02 351.47h0M346.69 352.02h0M348.35 352.55h0M350.02 353.07h0M351.68 353.56h0M353.35 354.04h0M355.02 354.49h0M356.68 354.93h0M358.35 355.38h0M360.02 355.83h0M361.68 356.3h0M363.35 356.78h0M365.02 357.24h0M366.68 357.7h0M368.35 358.2h0M370.02 358.74h0M371.68 359.36h0M373.35 360.07h0M375.02 361.01h0M376.68 362.67h0M378.35 365.47h0M380.02 368.96h0M381.68 371.34h0M383.35 373.22h0M385.01 374.86h0M386.68 376.31h0M388.35 377.19h0M390.01 377.8h0M391.68 378.23h0M393.35 378.55h0M395.01 378.8h0" stroke="#00ee00" stroke-width="2.2" stroke-linecap="round" fill="none"/>
<path d="M201.7 378.8h0M203.03 378.18h0M204.37 377.36h0M205.7 376.42h0M207.03 375.23h0M208.37 373.84h0M209.7 372.41h0M211.03 370.9h0M212.37 369.27h0M213.7 367.49h0M215.03 365.55h0M216.37 363.38h0M217.7 361.02h0M219.03 358.76h0M220.36 356.56h0M221.7 354.18h0M223.03 351.62h0M224.36 348.95h0M225.7 346.12h0M227.03 343.11h0M228.36 340.04h0M229.7 337.03h0M231.03 334h0M232.36 330.68h0M233.7 326.91h0M235.03 323.15h0M236.36 319.93h0M237.7 317.23h0M239.03 314.77h0M240.36 312.29h0M241.7 309.7h0M243.03 307.12h0M244.36 304.69h0M245.7 302.44h0M247.03 300.28h0M248.36 298.25h0M249.7 296.44h0M251.03 294.87h0M252.36 293.41h0M253.69 292.11h0M255.03 291.02h0M256.36 290.17h0M257.69 289.41h0M259.03 288.82h0M260.36 288.5h0M261.69 288.3h0M263.03 288.21h0M264.36 288.4h0M265.69 288.88h0M267.03 289.49h0M268.36 290.25h0M269.69 291.29h0M271.03 292.47h0M272.36 293.72h0M273.69 295.14h0M275.03 296.66h0M276.36 298.23h0M277.69 299.8h0M279.03 301.41h0M280.36 303.07h0M281.69 304.78h0M283.03 306.53h0M284.36 308.35h0M285.69 310.27h0M287.02 312.2h0M288.36 314.08h0M289.69 315.99h0M291.02 317.85h0M292.36 319.53h0M293.69 320.96h0M295.02 322.25h0M296.36 323.45h0M297.69 324.62h0M299.02 325.79h0M300.36 326.93h0M301.69 328.03h0M303.02 329.11h0M304.36 330.2h0M305.69 331.28h0M307.02 332.36h0M308.36 333.42h0M309.69 334.5h0M311.02 335.62h0M312.36 336.82h0M313.69 338.03h0M315.02 339.12h0M316.36 339.99h0M317.69 340.74h0M319.02 341.43h0M320.35 342.11h0M321.69 342.84h0M323.02 343.64h0M324.35 344.48h0M325.69 345.34h0M327.02 346.2h0M328.35 347.04h0M329.69 347.85h0M331.02 348.61h0M332.35 349.34h0M333.69 350.05h0M335.02 350.75h0M336.35 351.45h0M337.69 352.15h0M339.02 352.86h0M340.35 353.58h0M341.69 354.33h0M343.02 355.09h0M344.35 355.85h0M345.69 356.61h0M347.02 357.37h0M348.35 358.13h0M349.69 358.87h0M351.02 359.6h0M352.35 360.32h0M353.68 361.04h0M355.02 361.75h0M356.35 362.46h0M357.68 363.18h0M359.02 363.9h0M360.35 364.63h0M361.68 365.36h0M363.02 366.1h0M364.35 366.84h0M365.68 367.58h0M367.02 368.31h0M368.35 369.05h0M369.68 369.78h0M371.02 370.51h0M372.35 371.24h0M373.68 371.97h0M375.02 372.69h0M376.35 373.39h0M377.68 374.12h0M379.02 374.93h0M380.35 375.89h0M381.68 376.74h0M383.02 377.45h0M384.35 378.04h0M385.68 378.41h0M387.01 378.64h0M388.35 378.76h0M389.68 378.8h0M391.01 378.8h0M392.35 378.8h0M393.68 378.8h0M395.01 378.8h0" stroke="#0000ff" stroke-width="2.2" stroke-linecap="round" fill="none"/>
<path d="M201.7 378.8h0M203.03 378.18h0M204.37 377.36h0M205.7 376.42h0M207.03 375.23h0M208.37 373.84h0M209.7 372.41h0M211.03 370.9h0M212.37 369.27h0M213.7 367.49h0M215.03 365.55h0M216.37 363.38h0M217.7 361.02h0M219.03 358.76h0M220.36 356.56h0M221.7 354.18h0M223.03 351.62h0M224.36 348.95h0M225.7 346.12h0M227.03 343.11h0M228.36 340.04h0M229.7 337.07h0M231.03 334.05h0M232.36 330.57h0M233.7 326.31h0M235.03 322.2h0M236.36 319.08h0M237.7 316.5h0M239.03 314.08h0M240.36 311.54h0M241.7 308.89h0M243.03 306.25h0M244.36 303.77h0M245.7 301.4h0M247.03 299.08h0M248.36 296.95h0M249.7 295.13h0M251.03 293.56h0M252.36 292.14h0M253.69 290.92h0M255.03 289.94h0M256.36 289.13h0M257.69 288.43h0M259.03 287.96h0M260.36 287.74h0M261.69 287.59h0M263.03 287.52h0M264.36 287.7h0M265.69 288.19h0M267.03 288.8h0M268.36 289.55h0M269.69 290.57h0M271.03 291.75h0M272.36 293h0M273.69 294.39h0M275.03 295.91h0M276.36 297.51h0M277.69 299.13h0M279.03 300.81h0M280.36 302.56h0M281.69 304.35h0M283.03 306.17h0M284.36 308.02h0M285.69 309.92h0M287.02 311.83h0M288.36 313.75h0M289.69 315.76h0M291.02 317.74h0M292.36 319.52h0M293.69 321.03h0M295.02 322.41h0M296.36 323.69h0M297.69 324.93h0M299.02 326.18h0M300.36 327.41h0M301.69 328.6h0M303.02 329.77h0M304.36 330.89h0M305.69 331.96h0M307.02 332.94h0M308.36 333.89h0M309.69 334.87h0M311.02 335.97h0M312.36 337.26h0M313.69 338.61h0M315.02 339.8h0M316.36 340.7h0M317.69 341.46h0M319.02 342.14h0M320.35 342.81h0M321.69 343.53h0M323.02 344.33h0M324.35 345.16h0M325.69 346.01h0M327.02 346.87h0M328.35 347.71h0M329.69 348.53h0M331.02 349.32h0M332.35 350.1h0M333.69 350.86h0M335.02 351.61h0M336.35 352.35h0M337.69 353.1h0M339.02 353.84h0M340.35 354.59h0M341.69 355.34h0M343.02 356.09h0M344.35 356.83h0M345.69 357.57h0M347.02 358.32h0M348.35 359.06h0M349.69 359.8h0M351.02 360.55h0M352.35 361.29h0M353.68 362.03h0M355.02 362.77h0M356.35 363.51h0M357.68 364.25h0M359.02 364.99h0M360.35 365.74h0M361.68 366.48h0M363.02 367.22h0M364.35 367.96h0M365.68 368.71h0M367.02 369.45h0M368.35 370.19h0M369.68 370.93h0M371.02 371.67h0M372.35 372.4h0M373.68 373.14h0M375.02 373.88h0M376.35 374.62h0M377.68 375.36h0M379.02 376.13h0M380.35 376.95h0M381.68 377.61h0M383.02 378.11h0M384.35 378.44h0M385.68 378.64h0M387.01 378.76h0M388.35 378.79h0M389.68 378.8h0M391.01 378.8h0M392.35 378.8h0M393.68 378.8h0M395.01 378.8h0M396.35 378.8h0M397.68 378.8h0M399.01 378.8h0M400.35 378.8h0" stroke="#ff00ff" stroke-width="2.2" stroke-linecap="round" fill="none"/>
<path d="M201.7 378.8h0M203.03 378.18h0M204.37 377.36h0M205.7 376.42h0M207.03 375.23h0M208.37 373.84h0M209.7 372.41h0M211.03 370.9h0M212.37 369.27h0M213.7 367.49h0M215.03 365.55h0M216.37 363.38h0M217.7 361.02h0M219.03 358.76h0M220.36 356.56h0M221.7 354.19h0M223.03 351.62h0M224.36 348.73h0M225.7 345.78h0M227.03 342.94h0M228.36 340.03h0M229.7 337.01h0M231.03 333.82h0M232.36 330.11h0M233.7 325.53h0M235.03 321.41h0M236.36 318.4h0M237.7 315.83h0M239.03 313.31h0M240.36 310.54h0M241.7 307.64h0M243.03 304.82h0M244.36 302.25h0M245.7 299.78h0M247.03 297.44h0M248.36 295.39h0M249.7 293.73h0M251.03 292.27h0M252.36 290.97h0M253.69 289.85h0M255.03 288.91h0M256.36 288.07h0M257.69 287.32h0M259.03 286.74h0M260.36 286.42h0M261.69 286.23h0M263.03 286.14h0M264.36 286.32h0M265.69 286.81h0M267.03 287.42h0M268.36 288.11h0M269.69 289.02h0M271.03 290.1h0M272.36 291.28h0M273.69 292.65h0M275.03 294.26h0M276.36 295.99h0M277.69 297.75h0M279.03 299.52h0M280.36 301.36h0M281.69 303.24h0M283.03 305.13h0M284.36 306.98h0M285.69 308.83h0M287.02 310.7h0M288.36 312.62h0M289.69 314.67h0M291.02 316.88h0M292.36 319.01h0M293.69 320.82h0M295.02 322.28h0M296.36 323.56h0M297.69 324.78h0M299.02 325.96h0M300.36 327.08h0M301.69 328.17h0M303.02 329.25h0M304.36 330.34h0M305.69 331.41h0M307.02 332.47h0M308.36 333.54h0M309.69 334.66h0M311.02 335.85h0M312.36 337.17h0M313.69 338.52h0M315.02 339.76h0M316.36 340.81h0M317.69 341.76h0M319.02 342.65h0M320.35 343.52h0M321.69 344.42h0M323.02 345.29h0M324.35 346.17h0M325.69 347.04h0M327.02 347.94h0M328.35 348.87h0M329.69 349.79h0M331.02 350.66h0M332.35 351.46h0M333.69 352.19h0M335.02 352.88h0M336.35 353.54h0M337.69 354.2h0M339.02 354.87h0M340.35 355.59h0M341.69 356.33h0M343.02 357.08h0M344.35 357.85h0M345.69 358.62h0M347.02 359.4h0M348.35 360.18h0M349.69 360.95h0M351.02 361.72h0M352.35 362.49h0M353.68 363.27h0M355.02 364.04h0M356.35 364.81h0M357.68 365.57h0M359.02 366.32h0M360.35 367.07h0M361.68 367.82h0M363.02 368.56h0M364.35 369.31h0M365.68 370.05h0M367.02 370.79h0M368.35 371.54h0M369.68 372.28h0M371.02 373h0M372.35 373.75h0M373.68 374.52h0M375.02 375.36h0M376.35 376.25h0M377.68 377.05h0M379.02 377.75h0M380.35 378.24h0M381.68 378.56h0M383.02 378.75h0M384.35 378.8h0M385.68 378.8h0M387.01 378.8h0M388.35 378.8h0M389.68 378.8h0M391.01 378.8h0M392.35 378.8h0M393.68 378.8h0M395.01 378.8h0" stroke="#00ffff" stroke-width="2.2" stroke-linecap="round" fill="none"/>
<path d="M65.1 13.7H267.9" stroke="#7c7c7c" stroke-width="1.6" fill="none"/>
<path d="M65.7 13.7V176.4H267.3V13.7" stroke="#505050" stroke-width="1.25" fill="none"/>
<path d="M67.3 176.4v3.5M67.3 13.7v-3.5M89.58 176.4v2M89.58 13.7v-2M111.86 176.4v3.5M111.86 13.7v-3.5M134.14 176.4v2M134.14 13.7v-2M156.42 176.4v3.5M156.42 13.7v-3.5M178.7 176.4v2M178.7 13.7v-2M200.98 176.4v3.5M200.98 13.7v-3.5M223.26 176.4v2M223.26 13.7v-2M245.54 176.4v3.5M245.54 13.7v-3.5M65.7 174.4h-3.5M267.3 174.4h3.5M65.7 154.61h-2M267.3 154.61h2M65.7 134.82h-3.5M267.3 134.82h3.5M65.7 115.04h-2M267.3 115.04h2M65.7 95.25h-3.5M267.3 95.25h3.5M65.7 75.46h-2M267.3 75.46h2M65.7 55.68h-3.5M267.3 55.68h3.5M65.7 35.89h-2M267.3 35.89h2M65.7 16.1h-3.5M267.3 16.1h3.5" stroke="#505050" stroke-width="1.1" fill="none"/>
<text x="67.3" y="190.7" class="tl" text-anchor="middle">0</text>
<text x="111.86" y="190.7" class="tl" text-anchor="middle">20</text>
<text x="156.42" y="190.7" class="tl" text-anchor="middle">40</text>
<text x="200.98" y="190.7" class="tl" text-anchor="middle">60</text>
<text x="245.54" y="190.7" class="tl" text-anchor="middle">80</text>
<text x="61" y="178" class="tl" text-anchor="end">0.0</text>
<text x="61.5" y="138.42" class="tl" text-anchor="end">1.0x10<tspan class="sup" dy="-4.2">-2</tspan></text>
<text x="61.5" y="98.85" class="tl" text-anchor="end">2.0x10<tspan class="sup" dy="-4.2">-2</tspan></text>
<text x="61.5" y="59.27" class="tl" text-anchor="end">3.0x10<tspan class="sup" dy="-4.2">-2</tspan></text>
<text x="61.5" y="19.7" class="tl" text-anchor="end">4.0x10<tspan class="sup" dy="-4.2">-2</tspan></text>
<text transform="translate(17.4 73.75) rotate(-90)" class="yt" text-anchor="middle"><tspan font-style="italic">p</tspan> (r), [a. u.]</text>
<text x="166.5" y="208.7" class="xt" text-anchor="middle"><tspan font-style="italic">r</tspan>, [nm]</text>
<text x="8.7" y="209.6" class="pl">(a)</text>
<path d="M333.3 14H535.9" stroke="#7c7c7c" stroke-width="1.6" fill="none"/>
<path d="M333.9 14V176.5H535.3V14" stroke="#505050" stroke-width="1.25" fill="none"/>
<path d="M335.2 176.5v3.5M335.2 14v-3.5M357.42 176.5v2M357.42 14v-2M379.64 176.5v3.5M379.64 14v-3.5M401.86 176.5v2M401.86 14v-2M424.08 176.5v3.5M424.08 14v-3.5M446.3 176.5v2M446.3 14v-2M468.52 176.5v3.5M468.52 14v-3.5M490.74 176.5v2M490.74 14v-2M512.96 176.5v3.5M512.96 14v-3.5M535.18 176.5v2M535.18 14v-2M333.9 174.7h-3.5M535.3 174.7h3.5M333.9 157.4h-2M535.3 157.4h2M333.9 140.1h-3.5M535.3 140.1h3.5M333.9 122.8h-2M535.3 122.8h2M333.9 105.5h-3.5M535.3 105.5h3.5M333.9 88.2h-2M535.3 88.2h2M333.9 70.9h-3.5M535.3 70.9h3.5M333.9 53.6h-2M535.3 53.6h2M333.9 36.3h-3.5M535.3 36.3h3.5M333.9 19h-2M535.3 19h2" stroke="#505050" stroke-width="1.1" fill="none"/>
<text x="335.2" y="190.8" class="tl" text-anchor="middle">0</text>
<text x="379.64" y="190.8" class="tl" text-anchor="middle">20</text>
<text x="424.08" y="190.8" class="tl" text-anchor="middle">40</text>
<text x="468.52" y="190.8" class="tl" text-anchor="middle">60</text>
<text x="512.96" y="190.8" class="tl" text-anchor="middle">80</text>
<text x="329.2" y="178.3" class="tl" text-anchor="end">0.0</text>
<text x="329.7" y="143.7" class="tl" text-anchor="end">1.0x10<tspan class="sup" dy="-4.2">-2</tspan></text>
<text x="329.7" y="109.1" class="tl" text-anchor="end">2.0x10<tspan class="sup" dy="-4.2">-2</tspan></text>
<text x="329.7" y="74.5" class="tl" text-anchor="end">3.0x10<tspan class="sup" dy="-4.2">-2</tspan></text>
<text x="329.7" y="39.9" class="tl" text-anchor="end">4.0x10<tspan class="sup" dy="-4.2">-2</tspan></text>
<text transform="translate(285.6 73.95) rotate(-90)" class="yt" text-anchor="middle"><tspan font-style="italic">p</tspan> (r), [a. u.]</text>
<text x="434.6" y="208.8" class="xt" text-anchor="middle"><tspan font-style="italic">r</tspan>, [nm]</text>
<text x="276.9" y="209.7" class="pl">(b)</text>
<path d="M199.1 217.8H402" stroke="#7c7c7c" stroke-width="1.6" fill="none"/>
<path d="M199.7 217.8V380.4H401.4V217.8" stroke="#505050" stroke-width="1.25" fill="none"/>
<path d="M201.7 380.4v3.5M201.7 217.8v-3.5M223.92 380.4v2M223.92 217.8v-2M246.14 380.4v3.5M246.14 217.8v-3.5M268.36 380.4v2M268.36 217.8v-2M290.58 380.4v3.5M290.58 217.8v-3.5M312.8 380.4v2M312.8 217.8v-2M335.02 380.4v3.5M335.02 217.8v-3.5M357.24 380.4v2M357.24 217.8v-2M379.46 380.4v3.5M379.46 217.8v-3.5M401.68 380.4v2M401.68 217.8v-2M199.7 378.8h-3.5M401.4 378.8h3.5M199.7 361.51h-2M401.4 361.51h2M199.7 344.23h-3.5M401.4 344.23h3.5M199.7 326.94h-2M401.4 326.94h2M199.7 309.65h-3.5M401.4 309.65h3.5M199.7 292.36h-2M401.4 292.36h2M199.7 275.08h-3.5M401.4 275.08h3.5M199.7 257.79h-2M401.4 257.79h2M199.7 240.5h-3.5M401.4 240.5h3.5M199.7 223.21h-2M401.4 223.21h2" stroke="#505050" stroke-width="1.1" fill="none"/>
<text x="201.7" y="394.7" class="tl" text-anchor="middle">0</text>
<text x="246.14" y="394.7" class="tl" text-anchor="middle">20</text>
<text x="290.58" y="394.7" class="tl" text-anchor="middle">40</text>
<text x="335.02" y="394.7" class="tl" text-anchor="middle">60</text>
<text x="379.46" y="394.7" class="tl" text-anchor="middle">80</text>
<text x="195" y="382.4" class="tl" text-anchor="end">0.0</text>
<text x="195.5" y="347.83" class="tl" text-anchor="end">1.0x10<tspan class="sup" dy="-4.2">-2</tspan></text>
<text x="195.5" y="313.25" class="tl" text-anchor="end">2.0x10<tspan class="sup" dy="-4.2">-2</tspan></text>
<text x="195.5" y="278.68" class="tl" text-anchor="end">3.0x10<tspan class="sup" dy="-4.2">-2</tspan></text>
<text x="195.5" y="244.1" class="tl" text-anchor="end">4.0x10<tspan class="sup" dy="-4.2">-2</tspan></text>
<text transform="translate(151.4 277.8) rotate(-90)" class="yt" text-anchor="middle"><tspan font-style="italic">p</tspan> (r), [a. u.]</text>
<text x="300.55" y="412.7" class="xt" text-anchor="middle"><tspan font-style="italic">r</tspan>, [nm]</text>
<text x="142.7" y="413.6" class="pl">(c)</text>
<rect x="190.3" y="14.4" width="76.3" height="55" fill="#fff"/>
<polyline points="190.35,57.59 191.15,57.78 191.95,57.96 192.76,58.14 193.56,58.32 194.36,58.51 195.16,58.69 195.96,58.87 196.77,59.05 197.57,59.24 198.37,59.42 199.17,59.6 199.97,59.78 200.78,59.97 201.58,60.15 202.38,60.33 203.18,60.51 203.98,60.7 204.79,60.88 205.59,61.06 206.39,61.25 207.19,61.44 207.99,61.64 208.8,61.83 209.6,62.03 210.4,62.22 211.2,62.41 212,62.6 212.81,62.8 213.61,62.98 214.41,63.17 215.21,63.35 216.01,63.52 216.82,63.69 217.62,63.86 218.42,64.02 219.22,64.17 220.02,64.32 220.83,64.47 221.63,64.62 222.43,64.76 223.23,64.9 224.03,65.04 224.84,65.18 225.64,65.32 226.44,65.45 227.24,65.58 228.04,65.7 228.85,65.82 229.65,65.94 230.45,66.05 231.25,66.16 232.05,66.26 232.86,66.36 233.66,66.45 234.46,66.55 235.26,66.64 236.06,66.73 236.87,66.81 237.67,66.9 238.47,66.99 239.27,67.07 240.07,67.14 240.88,67.21 241.68,67.28 242.48,67.34 243.28,67.39 244.08,67.44 244.89,67.47 245.69,67.5 246.49,67.52 247.29,67.55 248.09,67.57 248.9,67.58 249.7,67.6 250.5,67.6" stroke="#ff0000" stroke-width="1.9" fill="none" stroke-linejoin="round"/>
<polyline points="190.35,42.41 191.15,42.82 191.95,43.22 192.76,43.63 193.56,44.03 194.36,44.43 195.16,44.84 195.96,45.24 196.77,45.65 197.57,46.05 198.37,46.45 199.17,46.86 199.97,47.26 200.78,47.67 201.58,48.07 202.38,48.47 203.18,48.88 203.98,49.28 204.79,49.69 205.59,50.09 206.39,50.5 207.19,50.9 207.99,51.31 208.8,51.71 209.6,52.12 210.4,52.52 211.2,52.93 212,53.33 212.81,53.74 213.61,54.14 214.41,54.55 215.21,54.95 216.01,55.36 216.82,55.76 217.62,56.16 218.42,56.56 219.22,56.97 220.02,57.37 220.83,57.77 221.63,58.18 222.43,58.59 223.23,59 224.03,59.4 224.84,59.81 225.64,60.21 226.44,60.61 227.24,61.01 228.04,61.4 228.85,61.79 229.65,62.17 230.45,62.54 231.25,62.92 232.05,63.31 232.86,63.7 233.66,64.11 234.46,64.5 235.26,64.89 236.06,65.25 236.87,65.59 237.67,65.9 238.47,66.17 239.27,66.39 240.07,66.58 240.88,66.75 241.68,66.91 242.48,67.06 243.28,67.2 244.08,67.31 244.89,67.4 245.69,67.46 246.49,67.5 247.29,67.53 248.09,67.56 248.9,67.58 249.7,67.6 250.5,67.6" stroke="#00ee00" stroke-width="1.9" fill="none" stroke-linejoin="round"/>
<polyline points="190.35,25.62 191.15,26.34 191.95,27.06 192.76,27.77 193.56,28.48 194.36,29.19 195.16,29.9 195.96,30.61 196.77,31.31 197.57,32.02 198.37,32.72 199.17,33.42 199.97,34.12 200.78,34.82 201.58,35.52 202.38,36.21 203.18,36.9 203.98,37.6 204.79,38.29 205.59,38.97 206.39,39.66 207.19,40.34 207.99,41.02 208.8,41.7 209.6,42.38 210.4,43.06 211.2,43.73 212,44.41 212.81,45.08 213.61,45.75 214.41,46.42 215.21,47.1 216.01,47.77 216.82,48.44 217.62,49.11 218.42,49.78 219.22,50.45 220.02,51.12 220.83,51.79 221.63,52.45 222.43,53.11 223.23,53.77 224.03,54.44 224.84,55.1 225.64,55.77 226.44,56.44 227.24,57.12 228.04,57.8 228.85,58.52 229.65,59.27 230.45,60.02 231.25,60.76 232.05,61.47 232.86,62.11 233.66,62.68 234.46,63.2 235.26,63.69 236.06,64.17 236.87,64.6 237.67,65.01 238.47,65.36 239.27,65.68 240.07,65.95 240.88,66.21 241.68,66.46 242.48,66.69 243.28,66.9 244.08,67.08 244.89,67.22 245.69,67.33 246.49,67.4 247.29,67.46 248.09,67.52 248.9,67.56 249.7,67.59 250.5,67.6" stroke="#0000ff" stroke-width="1.9" fill="none" stroke-linejoin="round"/>
<polyline points="190.35,19.76 191.15,20.57 191.95,21.38 192.76,22.19 193.56,22.99 194.36,23.79 195.16,24.59 195.96,25.38 196.77,26.17 197.57,26.96 198.37,27.75 199.17,28.54 199.97,29.32 200.78,30.09 201.58,30.87 202.38,31.64 203.18,32.41 203.98,33.18 204.79,33.94 205.59,34.7 206.39,35.45 207.19,36.2 207.99,36.94 208.8,37.67 209.6,38.41 210.4,39.14 211.2,39.87 212,40.6 212.81,41.33 213.61,42.06 214.41,42.79 215.21,43.52 216.01,44.26 216.82,44.99 217.62,45.74 218.42,46.49 219.22,47.24 220.02,48 220.83,48.76 221.63,49.53 222.43,50.29 223.23,51.06 224.03,51.84 224.84,52.61 225.64,53.39 226.44,54.18 227.24,54.97 228.04,55.77 228.85,56.59 229.65,57.43 230.45,58.27 231.25,59.09 232.05,59.86 232.86,60.6 233.66,61.34 234.46,62.05 235.26,62.72 236.06,63.31 236.87,63.82 237.67,64.31 238.47,64.77 239.27,65.2 240.07,65.59 240.88,65.94 241.68,66.23 242.48,66.47 243.28,66.68 244.08,66.87 244.89,67.05 245.69,67.21 246.49,67.33 247.29,67.43 248.09,67.49 248.9,67.52 249.7,67.55 250.5,67.57 251.3,67.59 252.1,67.6" stroke="#ff00ff" stroke-width="1.9" fill="none" stroke-linejoin="round"/>
<polyline points="190.35,16.19 191.15,17.02 191.95,17.85 192.76,18.68 193.56,19.51 194.36,20.33 195.16,21.16 195.96,21.98 196.77,22.8 197.57,23.62 198.37,24.44 199.17,25.26 199.97,26.08 200.78,26.9 201.58,27.72 202.38,28.53 203.18,29.34 203.98,30.16 204.79,30.97 205.59,31.78 206.39,32.58 207.19,33.38 207.99,34.17 208.8,34.96 209.6,35.76 210.4,36.55 211.2,37.34 212,38.13 212.81,38.92 213.61,39.72 214.41,40.51 215.21,41.32 216.01,42.12 216.82,42.94 217.62,43.76 218.42,44.58 219.22,45.42 220.02,46.26 220.83,47.11 221.63,47.96 222.43,48.82 223.23,49.69 224.03,50.56 224.84,51.43 225.64,52.32 226.44,53.2 227.24,54.09 228.04,54.99 228.85,55.93 229.65,56.89 230.45,57.85 231.25,58.77 232.05,59.62 232.86,60.41 233.66,61.18 234.46,61.91 235.26,62.58 236.06,63.19 236.87,63.72 237.67,64.22 238.47,64.7 239.27,65.15 240.07,65.56 240.88,65.92 241.68,66.23 242.48,66.47 243.28,66.68 244.08,66.87 244.89,67.05 245.69,67.21 246.49,67.33 247.29,67.43 248.09,67.49 248.9,67.52 249.7,67.55 250.5,67.57 251.3,67.59 252.1,67.6 252.91,67.6 253.71,67.6 254.51,67.6 255.31,67.6 256.11,67.6 256.92,67.6 257.72,67.6 258.52,67.6 259.32,67.6 260.12,67.6 260.93,67.6 261.73,67.6 262.53,67.6 263.33,67.6 264.13,67.6 264.94,67.6 265.74,67.6 266.54,67.6 267.34,67.6" stroke="#00ffff" stroke-width="1.9" fill="none" stroke-linejoin="round"/>
<path d="M190.3 14.3V69.4H267.3" stroke="#a8a8a8" stroke-width="1.2" fill="none"/>
<path d="M190.35 69.4v-2M200.38 69.4v-1.2M210.4 69.4v-2M220.43 69.4v-1.2M230.45 69.4v-2M240.48 69.4v-1.2M250.5 69.4v-2M260.53 69.4v-1.2" stroke="#888" stroke-width="0.8" fill="none"/>
<text x="191.15" y="78.9" class="it" text-anchor="middle">70</text>
<text x="211.2" y="78.9" class="it" text-anchor="middle">75</text>
<text x="231.25" y="78.9" class="it" text-anchor="middle">80</text>
<text x="251.3" y="78.9" class="it" text-anchor="middle">85</text>
<text x="189.2" y="70.7" class="it" text-anchor="end">0.0000</text>
<text x="189.2" y="41.95" class="it" text-anchor="end">0.0025</text>
<text transform="translate(163.3 40.85) rotate(-90) scale(1 1)" class="iyt" text-anchor="middle"><tspan font-style="italic">p</tspan> (r), [a. u.]</text>
<text x="231.8" y="88.9" class="ixt" text-anchor="middle"><tspan font-style="italic">r</tspan>, [nm]</text>
<rect x="458.5" y="14.7" width="76.1" height="55" fill="#fff"/>
<polyline points="458.55,49.6 459.35,49.9 460.15,50.21 460.96,50.51 461.76,50.8 462.56,51.1 463.36,51.4 464.16,51.69 464.97,51.98 465.77,52.27 466.57,52.56 467.37,52.85 468.17,53.14 468.98,53.42 469.78,53.71 470.58,53.99 471.38,54.27 472.18,54.54 472.99,54.82 473.79,55.09 474.59,55.36 475.39,55.63 476.19,55.9 477,56.17 477.8,56.43 478.6,56.7 479.4,56.97 480.2,57.24 481.01,57.5 481.81,57.77 482.61,58.04 483.41,58.31 484.21,58.58 485.02,58.85 485.82,59.13 486.62,59.4 487.42,59.67 488.22,59.95 489.03,60.22 489.83,60.5 490.63,60.77 491.43,61.05 492.23,61.32 493.04,61.59 493.84,61.87 494.64,62.14 495.44,62.42 496.24,62.7 497.05,62.98 497.85,63.25 498.65,63.53 499.45,63.8 500.25,64.06 501.06,64.32 501.86,64.58 502.66,64.85 503.46,65.1 504.26,65.34 505.07,65.55 505.87,65.74 506.67,65.92 507.47,66.09 508.27,66.26 509.08,66.41 509.88,66.55 510.68,66.68 511.48,66.8 512.28,66.89 513.09,66.97 513.89,67.04 514.69,67.1 515.49,67.16 516.29,67.21 517.1,67.26 517.9,67.3 518.7,67.34 519.5,67.37 520.3,67.39 521.11,67.41 521.91,67.43 522.71,67.45 523.51,67.47 524.31,67.48 525.12,67.49 525.92,67.5 526.72,67.5" stroke="#ff0000" stroke-width="1.9" fill="none" stroke-linejoin="round"/>
<polyline points="458.55,20.53 459.35,21.3 460.15,22.07 460.96,22.83 461.76,23.59 462.56,24.35 463.36,25.1 464.16,25.85 464.97,26.59 465.77,27.33 466.57,28.07 467.37,28.8 468.17,29.52 468.98,30.24 469.78,30.96 470.58,31.67 471.38,32.38 472.18,33.08 472.99,33.77 473.79,34.46 474.59,35.15 475.39,35.83 476.19,36.51 477,37.18 477.8,37.86 478.6,38.53 479.4,39.2 480.2,39.87 481.01,40.55 481.81,41.22 482.61,41.9 483.41,42.58 484.21,43.26 485.02,43.95 485.82,44.63 486.62,45.31 487.42,46 488.22,46.68 489.03,47.36 489.83,48.05 490.63,48.73 491.43,49.42 492.23,50.12 493.04,50.81 493.84,51.52 494.64,52.22 495.44,52.94 496.24,53.66 497.05,54.39 497.85,55.12 498.65,55.85 499.45,56.59 500.25,57.33 501.06,58.07 501.86,58.83 502.66,59.61 503.46,60.38 504.26,61.13 505.07,61.82 505.87,62.46 506.67,63.07 507.47,63.66 508.27,64.2 509.08,64.67 509.88,65.07 510.68,65.42 511.48,65.74 512.28,66.02 513.09,66.26 513.89,66.46 514.69,66.64 515.49,66.81 516.29,66.97 517.1,67.1 517.9,67.2 518.7,67.27 519.5,67.32 520.3,67.37 521.11,67.41 521.91,67.44 522.71,67.47 523.51,67.49 524.31,67.5" stroke="#00ee00" stroke-width="1.9" fill="none" stroke-linejoin="round"/>
<polyline points="468.98,15.63 469.78,16.64 470.58,17.65 471.38,18.65 472.18,19.65 472.99,20.63 473.79,21.61 474.59,22.58 475.39,23.54 476.19,24.48 477,25.41 477.8,26.32 478.6,27.23 479.4,28.14 480.2,29.05 481.01,29.97 481.81,30.89 482.61,31.83 483.41,32.79 484.21,33.77 485.02,34.78 485.82,35.81 486.62,36.86 487.42,37.92 488.22,38.99 489.03,40.07 489.83,41.13 490.63,42.19 491.43,43.25 492.23,44.3 493.04,45.36 493.84,46.42 494.64,47.48 495.44,48.53 496.24,49.58 497.05,50.62 497.85,51.64 498.65,52.65 499.45,53.65 500.25,54.64 501.06,55.61 501.86,56.56 502.66,57.49 503.46,58.41 504.26,59.3 505.07,60.15 505.87,60.93 506.67,61.68 507.47,62.39 508.27,63.05 509.08,63.62 509.88,64.13 510.68,64.6 511.48,65.02 512.28,65.4 513.09,65.72 513.89,66.02 514.69,66.29 515.49,66.53 516.29,66.73 517.1,66.89 517.9,67.05 518.7,67.18 519.5,67.29 520.3,67.37 521.11,67.4 521.91,67.42 522.71,67.45 523.51,67.47 524.31,67.48 525.12,67.49 525.92,67.5 526.72,67.5" stroke="#0000ff" stroke-width="1.9" fill="none" stroke-linejoin="round"/>
<polyline points="462.16,15.04 462.96,15.94 463.76,16.84 464.57,17.73 465.37,18.63 466.17,19.52 466.97,20.4 467.77,21.29 468.58,22.17 469.38,23.05 470.18,23.93 470.98,24.8 471.78,25.67 472.59,26.53 473.39,27.39 474.19,28.25 474.99,29.1 475.79,29.96 476.6,30.81 477.4,31.66 478.2,32.51 479,33.36 479.8,34.21 480.61,35.06 481.41,35.92 482.21,36.77 483.01,37.63 483.81,38.48 484.62,39.34 485.42,40.21 486.22,41.07 487.02,41.94 487.82,42.8 488.63,43.67 489.43,44.54 490.23,45.4 491.03,46.27 491.83,47.14 492.64,48 493.44,48.87 494.24,49.74 495.04,50.61 495.84,51.48 496.65,52.36 497.45,53.24 498.25,54.11 499.05,54.98 499.85,55.83 500.66,56.67 501.46,57.5 502.26,58.34 503.06,59.15 503.86,59.93 504.67,60.66 505.47,61.35 506.27,62.01 507.07,62.63 507.87,63.21 508.68,63.74 509.48,64.22 510.28,64.67 511.08,65.09 511.88,65.47 512.69,65.79 513.49,66.08 514.29,66.34 515.09,66.58 515.89,66.77 516.7,66.93 517.5,67.06 518.3,67.17 519.1,67.27 519.9,67.34 520.71,67.39 521.51,67.41 522.31,67.44 523.11,67.46 523.91,67.47 524.72,67.49 525.52,67.49 526.32,67.5" stroke="#00ffff" stroke-width="1.9" fill="none" stroke-linejoin="round"/>
<polyline points="458.55,18.37 459.35,19.09 460.15,19.82 460.96,20.55 461.76,21.28 462.56,22.01 463.36,22.75 464.16,23.48 464.97,24.22 465.77,24.95 466.57,25.69 467.37,26.44 468.17,27.18 468.98,27.92 469.78,28.67 470.58,29.42 471.38,30.17 472.18,30.93 472.99,31.69 473.79,32.45 474.59,33.21 475.39,33.98 476.19,34.75 477,35.52 477.8,36.28 478.6,37.05 479.4,37.82 480.2,38.58 481.01,39.34 481.81,40.1 482.61,40.85 483.41,41.6 484.21,42.35 485.02,43.08 485.82,43.81 486.62,44.54 487.42,45.26 488.22,45.98 489.03,46.7 489.83,47.41 490.63,48.13 491.43,48.85 492.23,49.57 493.04,50.3 493.84,51.03 494.64,51.77 495.44,52.52 496.24,53.27 497.05,54.03 497.85,54.79 498.65,55.56 499.45,56.32 500.25,57.09 501.06,57.85 501.86,58.64 502.66,59.45 503.46,60.24 504.26,61 505.07,61.7 505.87,62.34 506.67,62.96 507.47,63.54 508.27,64.08 509.08,64.55 509.88,64.96 510.68,65.34 511.48,65.69 512.28,66 513.09,66.25 513.89,66.46 514.69,66.65 515.49,66.82 516.29,66.97 517.1,67.1 517.9,67.2 518.7,67.27 519.5,67.32 520.3,67.37 521.11,67.41 521.91,67.44 522.71,67.47 523.51,67.49 524.31,67.5 525.12,67.5 525.92,67.5 526.72,67.5 527.52,67.5 528.32,67.5 529.13,67.5 529.93,67.5 530.73,67.5 531.53,67.5 532.33,67.5 533.14,67.5 533.94,67.5 534.74,67.5 535.54,67.5" stroke="#ff00ff" stroke-width="1.9" fill="none" stroke-linejoin="round"/>
<path d="M458.5 14.6V69.7H535.3" stroke="#a8a8a8" stroke-width="1.2" fill="none"/>
<path d="M458.55 69.7v-2M468.57 69.7v-1.2M478.6 69.7v-2M488.62 69.7v-1.2M498.65 69.7v-2M508.68 69.7v-1.2M518.7 69.7v-2M528.73 69.7v-1.2" stroke="#888" stroke-width="0.8" fill="none"/>
<text x="459.35" y="79.2" class="it" text-anchor="middle">70</text>
<text x="479.4" y="79.2" class="it" text-anchor="middle">75</text>
<text x="499.45" y="79.2" class="it" text-anchor="middle">80</text>
<text x="519.5" y="79.2" class="it" text-anchor="middle">85</text>
<text x="457.4" y="70.6" class="it" text-anchor="end">0.0000</text>
<text x="457.4" y="42.1" class="it" text-anchor="end">0.0025</text>
<text transform="translate(431.5 41.15) rotate(-90) scale(1 1)" class="iyt" text-anchor="middle"><tspan font-style="italic">p</tspan> (r), [a. u.]</text>
<text x="499.9" y="89.2" class="ixt" text-anchor="middle"><tspan font-style="italic">r</tspan>, [nm]</text>
<rect x="324.3" y="218.5" width="76.4" height="55" fill="#fff"/>
<polyline points="324.35,221.05 325.15,221.14 325.95,221.23 326.76,221.33 327.56,221.43 328.36,221.53 329.16,221.64 329.96,221.76 330.77,221.87 331.57,221.99 332.37,222.12 333.17,222.25 333.97,222.38 334.78,222.51 335.58,222.65 336.38,222.79 337.18,222.93 337.98,223.08 338.79,223.22 339.59,223.37 340.39,223.53 341.19,223.69 341.99,223.85 342.8,224.02 343.6,224.2 344.4,224.39 345.2,224.58 346,224.78 346.81,224.99 347.61,225.2 348.41,225.43 349.21,225.67 350.01,225.92 350.82,226.18 351.62,226.46 352.42,226.75 353.22,227.06 354.02,227.38 354.83,227.71 355.63,228.06 356.43,228.4 357.23,228.79 358.03,229.28 358.84,230.02 359.64,231.32 360.44,232.98 361.24,234.72 362.04,236.56 362.85,238.62 363.65,240.76 364.45,242.86 365.25,244.82 366.05,246.79 366.86,248.73 367.66,250.58 368.46,252.28 369.26,253.79 370.06,255.23 370.87,256.6 371.67,257.91 372.47,259.13 373.27,260.27 374.07,261.31 374.88,262.25 375.68,263.11 376.48,263.94 377.28,264.74 378.08,265.48 378.89,266.18 379.69,266.82 380.49,267.4 381.29,267.91 382.09,268.36 382.9,268.75 383.7,269.13 384.5,269.47 385.3,269.79 386.1,270.09 386.91,270.36 387.71,270.61 388.51,270.83 389.31,271.03 390.11,271.2 390.92,271.36 391.72,271.52 392.52,271.66 393.32,271.78 394.12,271.9 394.93,272 395.73,272.09 396.53,272.17 397.33,272.23 398.13,272.28" stroke="#ff0000" stroke-width="1.9" fill="none" stroke-linejoin="round"/>
<polyline points="324.35,223.81 325.15,224.22 325.95,224.61 326.76,225.01 327.56,225.39 328.36,225.77 329.16,226.15 329.96,226.52 330.77,226.88 331.57,227.23 332.37,227.59 333.17,227.93 333.97,228.27 334.78,228.6 335.58,228.93 336.38,229.25 337.18,229.57 337.98,229.88 338.79,230.19 339.59,230.48 340.39,230.76 341.19,231.03 341.99,231.29 342.8,231.55 343.6,231.8 344.4,232.06 345.2,232.31 346,232.58 346.81,232.85 347.61,233.14 348.41,233.43 349.21,233.72 350.01,234 350.82,234.3 351.62,234.6 352.42,234.92 353.22,235.26 354.02,235.62 354.83,236.02 355.63,236.45 356.43,236.92 357.23,237.46 358.03,238.13 358.84,239.04 359.64,240.45 360.44,242.15 361.24,243.85 362.04,245.53 362.85,247.3 363.65,249.07 364.45,250.75 365.25,252.3 366.05,253.78 366.86,255.21 367.66,256.56 368.46,257.8 369.26,258.92 370.06,260 370.87,261.03 371.67,262.01 372.47,262.93 373.27,263.78 374.07,264.57 374.88,265.27 375.68,265.92 376.48,266.55 377.28,267.14 378.08,267.7 378.89,268.22 379.69,268.71 380.49,269.14 381.29,269.53 382.09,269.87 382.9,270.18 383.7,270.47 384.5,270.76 385.3,271.03 386.1,271.27 386.91,271.49 387.71,271.67 388.51,271.82 389.31,271.93 390.11,272 390.92,272.06 391.72,272.12 392.52,272.17 393.32,272.21 394.12,272.25 394.93,272.28 395.73,272.29 396.53,272.3" stroke="#00ee00" stroke-width="1.9" fill="none" stroke-linejoin="round"/>
<polyline points="324.35,240.57 325.15,241.05 325.95,241.54 326.76,242.03 327.56,242.51 328.36,242.99 329.16,243.48 329.96,243.96 330.77,244.44 331.57,244.93 332.37,245.41 333.17,245.89 333.97,246.37 334.78,246.85 335.58,247.33 336.38,247.81 337.18,248.28 337.98,248.76 338.79,249.24 339.59,249.72 340.39,250.19 341.19,250.66 341.99,251.14 342.8,251.61 343.6,252.08 344.4,252.55 345.2,253.03 346,253.5 346.81,253.97 347.61,254.44 348.41,254.91 349.21,255.37 350.01,255.83 350.82,256.28 351.62,256.73 352.42,257.18 353.22,257.64 354.02,258.11 354.83,258.6 355.63,259.1 356.43,259.61 357.23,260.16 358.03,260.75 358.84,261.38 359.64,262.03 360.44,262.69 361.24,263.34 362.04,263.96 362.85,264.55 363.65,265.11 364.45,265.68 365.25,266.25 366.05,266.79 366.86,267.3 367.66,267.77 368.46,268.18 369.26,268.52 370.06,268.84 370.87,269.14 371.67,269.42 372.47,269.68 373.27,269.93 374.07,270.15 374.88,270.36 375.68,270.55 376.48,270.72 377.28,270.89 378.08,271.05 378.89,271.21 379.69,271.35 380.49,271.49 381.29,271.62 382.09,271.73 382.9,271.83 383.7,271.91 384.5,271.97 385.3,272.02 386.1,272.07 386.91,272.12 387.71,272.16 388.51,272.2 389.31,272.23 390.11,272.26 390.92,272.28 391.72,272.3 392.52,272.3" stroke="#0000ff" stroke-width="1.9" fill="none" stroke-linejoin="round"/>
<polyline points="324.35,245.82 325.15,246.32 325.95,246.81 326.76,247.3 327.56,247.79 328.36,248.28 329.16,248.76 329.96,249.25 330.77,249.74 331.57,250.22 332.37,250.71 333.17,251.19 333.97,251.68 334.78,252.16 335.58,252.64 336.38,253.12 337.18,253.6 337.98,254.08 338.79,254.56 339.59,255.04 340.39,255.51 341.19,255.99 341.99,256.46 342.8,256.93 343.6,257.4 344.4,257.87 345.2,258.34 346,258.82 346.81,259.29 347.61,259.76 348.41,260.24 349.21,260.71 350.01,261.19 350.82,261.66 351.62,262.14 352.42,262.61 353.22,263.09 354.02,263.57 354.83,264.05 355.63,264.53 356.43,265.02 357.23,265.52 358.03,266.06 358.84,266.61 359.64,267.17 360.44,267.71 361.24,268.22 362.04,268.69 362.85,269.08 363.65,269.43 364.45,269.76 365.25,270.08 366.05,270.36 366.86,270.62 367.66,270.85 368.46,271.04 369.26,271.19 370.06,271.33 370.87,271.45 371.67,271.57 372.47,271.68 373.27,271.77 374.07,271.86 374.88,271.93 375.68,271.99 376.48,272.04 377.28,272.08 378.08,272.12 378.89,272.16 379.69,272.19 380.49,272.22 381.29,272.25 382.09,272.27 382.9,272.29 383.7,272.3 384.5,272.3 385.3,272.3 386.1,272.3 386.91,272.3 387.71,272.3 388.51,272.3 389.31,272.3 390.11,272.3 390.92,272.3 391.72,272.3 392.52,272.3" stroke="#00ffff" stroke-width="1.9" fill="none" stroke-linejoin="round"/>
<polyline points="324.35,243.39 325.15,243.9 325.95,244.4 326.76,244.9 327.56,245.4 328.36,245.9 329.16,246.4 329.96,246.89 330.77,247.39 331.57,247.88 332.37,248.37 333.17,248.86 333.97,249.35 334.78,249.84 335.58,250.33 336.38,250.81 337.18,251.3 337.98,251.78 338.79,252.26 339.59,252.74 340.39,253.22 341.19,253.69 341.99,254.17 342.8,254.64 343.6,255.11 344.4,255.58 345.2,256.05 346,256.52 346.81,256.99 347.61,257.46 348.41,257.94 349.21,258.41 350.01,258.88 350.82,259.35 351.62,259.82 352.42,260.29 353.22,260.76 354.02,261.23 354.83,261.71 355.63,262.19 356.43,262.66 357.23,263.15 358.03,263.66 358.84,264.18 359.64,264.71 360.44,265.25 361.24,265.77 362.04,266.27 362.85,266.74 363.65,267.18 364.45,267.57 365.25,267.93 366.05,268.28 366.86,268.62 367.66,268.94 368.46,269.25 369.26,269.53 370.06,269.8 370.87,270.05 371.67,270.27 372.47,270.46 373.27,270.64 374.07,270.8 374.88,270.96 375.68,271.11 376.48,271.25 377.28,271.38 378.08,271.49 378.89,271.6 379.69,271.69 380.49,271.77 381.29,271.85 382.09,271.93 382.9,272 383.7,272.07 384.5,272.13 385.3,272.19 386.1,272.23 386.91,272.27 387.71,272.29 388.51,272.3 389.31,272.3 390.11,272.3 390.92,272.3 391.72,272.3 392.52,272.3 393.32,272.3 394.12,272.3 394.93,272.3 395.73,272.3 396.53,272.3 397.33,272.3 398.13,272.3 398.94,272.3 399.74,272.3 400.54,272.3 401.34,272.3" stroke="#ff00ff" stroke-width="1.9" fill="none" stroke-linejoin="round"/>
<path d="M324.3 218.4V273.5H401.4" stroke="#a8a8a8" stroke-width="1.2" fill="none"/>
<path d="M324.35 273.5v-2M334.37 273.5v-1.2M344.4 273.5v-2M354.42 273.5v-1.2M364.45 273.5v-2M374.47 273.5v-1.2M384.5 273.5v-2M394.52 273.5v-1.2" stroke="#888" stroke-width="0.8" fill="none"/>
<text x="325.15" y="283" class="it" text-anchor="middle">70</text>
<text x="345.2" y="283" class="it" text-anchor="middle">75</text>
<text x="365.25" y="283" class="it" text-anchor="middle">80</text>
<text x="385.3" y="283" class="it" text-anchor="middle">85</text>
<text x="323.2" y="275.4" class="it" text-anchor="end">0.0000</text>
<text x="323.2" y="258.98" class="it" text-anchor="end">0.0025</text>
<text x="323.2" y="242.55" class="it" text-anchor="end">0.0050</text>
<text x="323.2" y="226.12" class="it" text-anchor="end">0.0075</text>
<text transform="translate(297.6 244.95) rotate(-90) scale(1 1)" class="iyt" text-anchor="middle"><tspan font-style="italic">p</tspan> (r), [a. u.]</text>
<text x="365.85" y="293" class="ixt" text-anchor="middle"><tspan font-style="italic">r</tspan>, [nm]</text>
<circle cx="107" cy="111.4" r="1.05" fill="#000000"/>
<text x="120.3" y="114.86" class="lg" style="font-size:9.6px;stroke-width:0.25px"><tspan class="al">&#945;</tspan> <tspan font-size="82%" dy="-0.6">=</tspan><tspan dy="0.6"> 0.0</tspan></text>
<circle cx="107" cy="123.54" r="1.05" fill="#ff0000"/>
<text x="120.3" y="127" class="lg" style="font-size:9.6px;stroke-width:0.25px"><tspan class="al">&#945;</tspan> <tspan font-size="82%" dy="-0.6">=</tspan><tspan dy="0.6"> 0.1</tspan></text>
<circle cx="107" cy="135.68" r="1.05" fill="#00ee00"/>
<text x="120.3" y="139.14" class="lg" style="font-size:9.6px;stroke-width:0.25px"><tspan class="al">&#945;</tspan> <tspan font-size="82%" dy="-0.6">=</tspan><tspan dy="0.6"> 0.3</tspan></text>
<circle cx="107" cy="147.82" r="1.05" fill="#0000ff"/>
<text x="120.3" y="151.28" class="lg" style="font-size:9.6px;stroke-width:0.25px"><tspan class="al">&#945;</tspan> <tspan font-size="82%" dy="-0.6">=</tspan><tspan dy="0.6"> 0.6</tspan></text>
<circle cx="107" cy="159.96" r="1.05" fill="#ff00ff"/>
<text x="120.3" y="163.42" class="lg" style="font-size:9.6px;stroke-width:0.25px"><tspan class="al">&#945;</tspan> <tspan font-size="82%" dy="-0.6">=</tspan><tspan dy="0.6"> 0.9</tspan></text>
<circle cx="107" cy="172.1" r="1.05" fill="#00ffff"/>
<text x="120.3" y="175.56" class="lg" style="font-size:9.6px;stroke-width:0.25px"><tspan class="al">&#945;</tspan> <tspan font-size="82%" dy="-0.6">=</tspan><tspan dy="0.6"> 1.0</tspan></text>
<circle cx="486.5" cy="107.2" r="1.05" fill="#0000ff"/>
<text x="499.6" y="110.66" class="lg" style="font-size:9.6px;stroke-width:0.25px"><tspan class="al">&#945;</tspan> <tspan font-size="82%" dy="-0.6">=</tspan><tspan dy="0.6"> 0.6</tspan></text>
<circle cx="486.5" cy="119.75" r="1.05" fill="#ff00ff"/>
<text x="499.6" y="123.21" class="lg" style="font-size:9.6px;stroke-width:0.25px"><tspan class="al">&#945;</tspan> <tspan font-size="82%" dy="-0.6">=</tspan><tspan dy="0.6"> 0.9</tspan></text>
<circle cx="486.5" cy="132.3" r="1.05" fill="#00ffff"/>
<text x="499.6" y="135.76" class="lg" style="font-size:9.6px;stroke-width:0.25px"><tspan class="al">&#945;</tspan> <tspan font-size="82%" dy="-0.6">=</tspan><tspan dy="0.6"> 1.0</tspan></text>
<circle cx="368" cy="145.1" r="1.05" fill="#000000"/>
<text x="381.3" y="148.56" class="lg" style="font-size:9.6px;stroke-width:0.25px"><tspan class="al">&#945;</tspan> <tspan font-size="82%" dy="-0.6">=</tspan><tspan dy="0.6"> 0.0</tspan></text>
<circle cx="368" cy="157.7" r="1.05" fill="#ff0000"/>
<text x="381.3" y="161.16" class="lg" style="font-size:9.6px;stroke-width:0.25px"><tspan class="al">&#945;</tspan> <tspan font-size="82%" dy="-0.6">=</tspan><tspan dy="0.6"> 0.1</tspan></text>
<circle cx="368" cy="170.3" r="1.05" fill="#00ee00"/>
<text x="381.3" y="173.76" class="lg" style="font-size:9.6px;stroke-width:0.25px"><tspan class="al">&#945;</tspan> <tspan font-size="82%" dy="-0.6">=</tspan><tspan dy="0.6"> 0.3</tspan></text>
<circle cx="228.8" cy="351.5" r="1.05" fill="#000000"/>
<text x="241.1" y="354.52" class="lg" style="font-size:8.4px;stroke-width:0.08px"><tspan class="al">&#945;</tspan> <tspan font-size="82%" dy="-0.6">=</tspan><tspan dy="0.6"> 0.000</tspan></text>
<circle cx="228.8" cy="362.6" r="1.05" fill="#ff0000"/>
<text x="241.1" y="365.62" class="lg" style="font-size:8.4px;stroke-width:0.08px"><tspan class="al">&#945;</tspan> <tspan font-size="82%" dy="-0.6">=</tspan><tspan dy="0.6"> 0.500</tspan></text>
<circle cx="228.8" cy="373.7" r="1.05" fill="#00ee00"/>
<text x="241.1" y="376.72" class="lg" style="font-size:8.4px;stroke-width:0.08px"><tspan class="al">&#945;</tspan> <tspan font-size="82%" dy="-0.6">=</tspan><tspan dy="0.6"> 0.800</tspan></text>
<circle cx="349.5" cy="310.5" r="1.05" fill="#0000ff"/>
<text x="361.8" y="313.52" class="lg" style="font-size:8.4px;stroke-width:0.08px"><tspan class="al">&#945;</tspan> <tspan font-size="82%" dy="-0.6">=</tspan><tspan dy="0.6"> 0.980</tspan></text>
<circle cx="349.5" cy="322.15" r="1.05" fill="#ff00ff"/>
<text x="361.8" y="325.17" class="lg" style="font-size:8.4px;stroke-width:0.08px"><tspan class="al">&#945;</tspan> <tspan font-size="82%" dy="-0.6">=</tspan><tspan dy="0.6"> 0.999</tspan></text>
<circle cx="349.5" cy="333.8" r="1.05" fill="#00ffff"/>
<text x="361.8" y="336.82" class="lg" style="font-size:8.4px;stroke-width:0.08px"><tspan class="al">&#945;</tspan> <tspan font-size="82%" dy="-0.6">=</tspan><tspan dy="0.6"> 1.000</tspan></text>
</svg>
</body></html>
